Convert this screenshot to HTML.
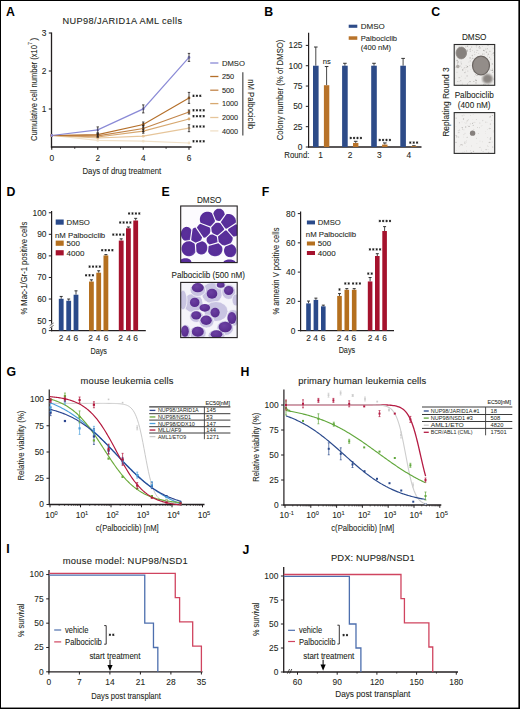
<!DOCTYPE html>
<html><head><meta charset="utf-8"><style>
html,body{margin:0;padding:0;background:#fff;}
svg{display:block;font-family:"Liberation Sans", sans-serif;}
</style></head><body>
<svg width="520" height="709" viewBox="0 0 520 709">
<rect x="0" y="0" width="520" height="709" fill="#fff"/>
<text x="6.0" y="16.2" font-size="12.3" text-anchor="start" font-weight="bold" fill="#000">A</text>
<text x="62.5" y="23.75" font-size="9.2" text-anchor="start" textLength="119.5" lengthAdjust="spacing" fill="#231f20" stroke="#231f20" stroke-width="0.1">NUP98/JARID1A AML cells</text>
<line x1="51.5" y1="32.5" x2="51.5" y2="147.6" stroke="#231f20" stroke-width="1.3"/>
<line x1="48.8" y1="33" x2="51.5" y2="33" stroke="#231f20" stroke-width="1.1"/>
<text x="46.3" y="35.9" font-size="8.4" text-anchor="end" fill="#231f20" stroke="#231f20" stroke-width="0.08">3</text>
<line x1="48.8" y1="71" x2="51.5" y2="71" stroke="#231f20" stroke-width="1.1"/>
<text x="46.3" y="73.9" font-size="8.4" text-anchor="end" fill="#231f20" stroke="#231f20" stroke-width="0.08">2</text>
<line x1="48.8" y1="109" x2="51.5" y2="109" stroke="#231f20" stroke-width="1.1"/>
<text x="46.3" y="111.9" font-size="8.4" text-anchor="end" fill="#231f20" stroke="#231f20" stroke-width="0.08">1</text>
<line x1="50.9" y1="147" x2="191.5" y2="147" stroke="#231f20" stroke-width="1.3"/>
<line x1="51.75" y1="147" x2="51.75" y2="149.8" stroke="#231f20" stroke-width="1.1"/>
<text x="51.75" y="160.5" font-size="8.4" text-anchor="middle" fill="#231f20" stroke="#231f20" stroke-width="0.08">0</text>
<line x1="97.75" y1="147" x2="97.75" y2="149.8" stroke="#231f20" stroke-width="1.1"/>
<text x="97.75" y="160.5" font-size="8.4" text-anchor="middle" fill="#231f20" stroke="#231f20" stroke-width="0.08">2</text>
<line x1="143.25" y1="147" x2="143.25" y2="149.8" stroke="#231f20" stroke-width="1.1"/>
<text x="143.25" y="160.5" font-size="8.4" text-anchor="middle" fill="#231f20" stroke="#231f20" stroke-width="0.08">4</text>
<line x1="189" y1="147" x2="189" y2="149.8" stroke="#231f20" stroke-width="1.1"/>
<text x="189" y="160.5" font-size="8.4" text-anchor="middle" fill="#231f20" stroke="#231f20" stroke-width="0.08">6</text>
<line x1="74.75" y1="147" x2="74.75" y2="148.8" stroke="#231f20" stroke-width="0.9"/>
<line x1="120.5" y1="147" x2="120.5" y2="148.8" stroke="#231f20" stroke-width="0.9"/>
<line x1="166.1" y1="147" x2="166.1" y2="148.8" stroke="#231f20" stroke-width="0.9"/>
<text x="82.5" y="173.9" font-size="9.8" text-anchor="start" textLength="78.7" lengthAdjust="spacingAndGlyphs" fill="#231f20" stroke="#231f20" stroke-width="0.08">Days of drug treatment</text>
<text x="36.6" y="141" font-size="9.4" text-anchor="start" textLength="96" lengthAdjust="spacingAndGlyphs" transform="rotate(-90 36.6 141)" fill="#231f20" stroke="#231f20" stroke-width="0.08">Cumulative cell number (x10</text>
<text x="32.2" y="45.0" font-size="5.2" text-anchor="start" transform="rotate(-90 32.2 45.0)" fill="#231f20" stroke="#231f20" stroke-width="0.08">7</text>
<text x="36.6" y="40.8" font-size="9.4" text-anchor="start" transform="rotate(-90 36.6 40.8)" fill="#231f20" stroke="#231f20" stroke-width="0.08">)</text>
<polyline points="51.75,135.50 97.75,140.40 143.25,141.20 189.00,143.00" fill="none" stroke="#f1e1c8" stroke-width="1.2"/>
<circle cx="51.75" cy="135.5" r="1.4" fill="#f1e1c8"/>
<circle cx="97.75" cy="140.4" r="1.4" fill="#f1e1c8"/>
<circle cx="143.25" cy="141.2" r="1.4" fill="#f1e1c8"/>
<circle cx="189" cy="143.0" r="1.4" fill="#f1e1c8"/>
<polyline points="51.75,135.50 97.75,138.00 143.25,136.20 189.00,128.20" fill="none" stroke="#e6c59a" stroke-width="1.2"/>
<circle cx="51.75" cy="135.5" r="1.4" fill="#e6c59a"/>
<circle cx="97.75" cy="138.0" r="1.4" fill="#e6c59a"/>
<circle cx="143.25" cy="136.2" r="1.4" fill="#e6c59a"/>
<circle cx="189" cy="128.2" r="1.4" fill="#e6c59a"/>
<polyline points="51.75,135.50 97.75,137.00 143.25,131.20 189.00,119.00" fill="none" stroke="#d7a870" stroke-width="1.2"/>
<circle cx="51.75" cy="135.5" r="1.4" fill="#d7a870"/>
<circle cx="97.75" cy="137.0" r="1.4" fill="#d7a870"/>
<circle cx="143.25" cy="131.2" r="1.4" fill="#d7a870"/>
<circle cx="189" cy="119.0" r="1.4" fill="#d7a870"/>
<polyline points="51.75,135.50 97.75,135.80 143.25,128.50 189.00,112.00" fill="none" stroke="#c2854a" stroke-width="1.2"/>
<circle cx="51.75" cy="135.5" r="1.4" fill="#c2854a"/>
<circle cx="97.75" cy="135.8" r="1.4" fill="#c2854a"/>
<circle cx="143.25" cy="128.5" r="1.4" fill="#c2854a"/>
<circle cx="189" cy="112.0" r="1.4" fill="#c2854a"/>
<polyline points="51.75,135.50 97.75,134.70 143.25,124.50 189.00,97.90" fill="none" stroke="#b46f2a" stroke-width="1.2"/>
<circle cx="51.75" cy="135.5" r="1.4" fill="#b46f2a"/>
<circle cx="97.75" cy="134.7" r="1.4" fill="#b46f2a"/>
<circle cx="143.25" cy="124.5" r="1.4" fill="#b46f2a"/>
<circle cx="189" cy="97.9" r="1.4" fill="#b46f2a"/>
<polyline points="51.75,135.50 97.75,129.90 143.25,108.90 189.00,57.40" fill="none" stroke="#8a8ad6" stroke-width="1.2"/>
<circle cx="51.75" cy="135.5" r="1.4" fill="#8a8ad6"/>
<circle cx="97.75" cy="129.9" r="1.4" fill="#8a8ad6"/>
<circle cx="143.25" cy="108.9" r="1.4" fill="#8a8ad6"/>
<circle cx="189" cy="57.4" r="1.4" fill="#8a8ad6"/>
<line x1="97.75" y1="126.9" x2="97.75" y2="132.9" stroke="#231f20" stroke-width="0.8"/>
<line x1="96.55" y1="126.9" x2="98.95" y2="126.9" stroke="#231f20" stroke-width="0.8"/>
<line x1="96.55" y1="132.9" x2="98.95" y2="132.9" stroke="#231f20" stroke-width="0.8"/>
<line x1="143.25" y1="104.9" x2="143.25" y2="112.9" stroke="#231f20" stroke-width="0.8"/>
<line x1="142.05" y1="104.9" x2="144.45" y2="104.9" stroke="#231f20" stroke-width="0.8"/>
<line x1="142.05" y1="112.9" x2="144.45" y2="112.9" stroke="#231f20" stroke-width="0.8"/>
<line x1="189" y1="53.4" x2="189" y2="61.4" stroke="#231f20" stroke-width="0.8"/>
<line x1="187.8" y1="53.4" x2="190.2" y2="53.4" stroke="#231f20" stroke-width="0.8"/>
<line x1="187.8" y1="61.4" x2="190.2" y2="61.4" stroke="#231f20" stroke-width="0.8"/>
<line x1="97.75" y1="133.2" x2="97.75" y2="136.2" stroke="#231f20" stroke-width="0.8"/>
<line x1="96.55" y1="133.2" x2="98.95" y2="133.2" stroke="#231f20" stroke-width="0.8"/>
<line x1="96.55" y1="136.2" x2="98.95" y2="136.2" stroke="#231f20" stroke-width="0.8"/>
<line x1="143.25" y1="122.0" x2="143.25" y2="127.0" stroke="#231f20" stroke-width="0.8"/>
<line x1="142.05" y1="122.0" x2="144.45" y2="122.0" stroke="#231f20" stroke-width="0.8"/>
<line x1="142.05" y1="127.0" x2="144.45" y2="127.0" stroke="#231f20" stroke-width="0.8"/>
<line x1="189" y1="92.4" x2="189" y2="103.4" stroke="#231f20" stroke-width="0.8"/>
<line x1="187.8" y1="92.4" x2="190.2" y2="92.4" stroke="#231f20" stroke-width="0.8"/>
<line x1="187.8" y1="103.4" x2="190.2" y2="103.4" stroke="#231f20" stroke-width="0.8"/>
<line x1="97.75" y1="134.3" x2="97.75" y2="137.3" stroke="#231f20" stroke-width="0.8"/>
<line x1="96.55" y1="134.3" x2="98.95" y2="134.3" stroke="#231f20" stroke-width="0.8"/>
<line x1="96.55" y1="137.3" x2="98.95" y2="137.3" stroke="#231f20" stroke-width="0.8"/>
<line x1="143.25" y1="125.5" x2="143.25" y2="131.5" stroke="#231f20" stroke-width="0.8"/>
<line x1="142.05" y1="125.5" x2="144.45" y2="125.5" stroke="#231f20" stroke-width="0.8"/>
<line x1="142.05" y1="131.5" x2="144.45" y2="131.5" stroke="#231f20" stroke-width="0.8"/>
<line x1="189" y1="110.0" x2="189" y2="114.0" stroke="#231f20" stroke-width="0.8"/>
<line x1="187.8" y1="110.0" x2="190.2" y2="110.0" stroke="#231f20" stroke-width="0.8"/>
<line x1="187.8" y1="114.0" x2="190.2" y2="114.0" stroke="#231f20" stroke-width="0.8"/>
<line x1="143.25" y1="129.2" x2="143.25" y2="133.2" stroke="#231f20" stroke-width="0.8"/>
<line x1="142.05" y1="129.2" x2="144.45" y2="129.2" stroke="#231f20" stroke-width="0.8"/>
<line x1="142.05" y1="133.2" x2="144.45" y2="133.2" stroke="#231f20" stroke-width="0.8"/>
<line x1="189" y1="124.69999999999999" x2="189" y2="131.7" stroke="#231f20" stroke-width="0.8"/>
<line x1="187.8" y1="124.69999999999999" x2="190.2" y2="124.69999999999999" stroke="#231f20" stroke-width="0.8"/>
<line x1="187.8" y1="131.7" x2="190.2" y2="131.7" stroke="#231f20" stroke-width="0.8"/>
<path d="M193.50 94.60L193.50 97.00M192.46 95.20L194.54 96.40M194.54 95.20L192.46 96.40M196.90 94.60L196.90 97.00M195.86 95.20L197.94 96.40M197.94 95.20L195.86 96.40M200.30 94.60L200.30 97.00M199.26 95.20L201.34 96.40M201.34 95.20L199.26 96.40" stroke="#1a1a1a" stroke-width="0.85" fill="none"/>
<path d="M193.50 109.10L193.50 111.50M192.46 109.70L194.54 110.90M194.54 109.70L192.46 110.90M196.90 109.10L196.90 111.50M195.86 109.70L197.94 110.90M197.94 109.70L195.86 110.90M200.30 109.10L200.30 111.50M199.26 109.70L201.34 110.90M201.34 109.70L199.26 110.90M203.70 109.10L203.70 111.50M202.66 109.70L204.74 110.90M204.74 109.70L202.66 110.90" stroke="#1a1a1a" stroke-width="0.85" fill="none"/>
<path d="M193.50 115.00L193.50 117.40M192.46 115.60L194.54 116.80M194.54 115.60L192.46 116.80M196.90 115.00L196.90 117.40M195.86 115.60L197.94 116.80M197.94 115.60L195.86 116.80M200.30 115.00L200.30 117.40M199.26 115.60L201.34 116.80M201.34 115.60L199.26 116.80M203.70 115.00L203.70 117.40M202.66 115.60L204.74 116.80M204.74 115.60L202.66 116.80" stroke="#1a1a1a" stroke-width="0.85" fill="none"/>
<path d="M193.50 125.30L193.50 127.70M192.46 125.90L194.54 127.10M194.54 125.90L192.46 127.10M196.90 125.30L196.90 127.70M195.86 125.90L197.94 127.10M197.94 125.90L195.86 127.10M200.30 125.30L200.30 127.70M199.26 125.90L201.34 127.10M201.34 125.90L199.26 127.10M203.70 125.30L203.70 127.70M202.66 125.90L204.74 127.10M204.74 125.90L202.66 127.10" stroke="#1a1a1a" stroke-width="0.85" fill="none"/>
<path d="M193.50 140.10L193.50 142.50M192.46 140.70L194.54 141.90M194.54 140.70L192.46 141.90M196.90 140.10L196.90 142.50M195.86 140.70L197.94 141.90M197.94 140.70L195.86 141.90M200.30 140.10L200.30 142.50M199.26 140.70L201.34 141.90M201.34 140.70L199.26 141.90M203.70 140.10L203.70 142.50M202.66 140.70L204.74 141.90M204.74 140.70L202.66 141.90" stroke="#1a1a1a" stroke-width="0.85" fill="none"/>
<line x1="210.2" y1="63.0" x2="218.4" y2="63.0" stroke="#8a8ad6" stroke-width="1.3"/>
<text x="221.9" y="65.8" font-size="7.9" text-anchor="start" textLength="23.0" lengthAdjust="spacingAndGlyphs" fill="#231f20" stroke="#231f20" stroke-width="0.08">DMSO</text>
<line x1="210.2" y1="76.5" x2="218.4" y2="76.5" stroke="#b46f2a" stroke-width="1.3"/>
<text x="221.9" y="79.3" font-size="7.9" text-anchor="start" textLength="12.3" lengthAdjust="spacingAndGlyphs" fill="#231f20" stroke="#231f20" stroke-width="0.08">250</text>
<line x1="210.2" y1="90.2" x2="218.4" y2="90.2" stroke="#c2854a" stroke-width="1.3"/>
<text x="221.9" y="93.0" font-size="7.9" text-anchor="start" textLength="12.3" lengthAdjust="spacingAndGlyphs" fill="#231f20" stroke="#231f20" stroke-width="0.08">500</text>
<line x1="210.2" y1="103.6" x2="218.4" y2="103.6" stroke="#d7a870" stroke-width="1.3"/>
<text x="221.9" y="106.39999999999999" font-size="7.9" text-anchor="start" textLength="16.2" lengthAdjust="spacingAndGlyphs" fill="#231f20" stroke="#231f20" stroke-width="0.08">1000</text>
<line x1="210.2" y1="117.5" x2="218.4" y2="117.5" stroke="#e6c59a" stroke-width="1.3"/>
<text x="221.9" y="120.3" font-size="7.9" text-anchor="start" textLength="16.2" lengthAdjust="spacingAndGlyphs" fill="#231f20" stroke="#231f20" stroke-width="0.08">2000</text>
<line x1="210.2" y1="130.9" x2="218.4" y2="130.9" stroke="#f1e1c8" stroke-width="1.3"/>
<text x="221.9" y="133.70000000000002" font-size="7.9" text-anchor="start" textLength="16.2" lengthAdjust="spacingAndGlyphs" fill="#231f20" stroke="#231f20" stroke-width="0.08">4000</text>
<line x1="242.8" y1="72.3" x2="242.8" y2="135.4" stroke="#666" stroke-width="1.4"/>
<text x="248.2" y="79.2" font-size="8.2" text-anchor="start" textLength="50.0" lengthAdjust="spacingAndGlyphs" transform="rotate(90 248.2 79.2)" fill="#231f20" stroke="#231f20" stroke-width="0.08">nM Palbociclib</text>
<text x="264.3" y="16.2" font-size="12.3" text-anchor="start" font-weight="bold" fill="#000">B</text>
<line x1="308.6" y1="32.8" x2="308.6" y2="147.6" stroke="#231f20" stroke-width="1.2"/>
<line x1="305.8" y1="147.0" x2="308.6" y2="147.0" stroke="#231f20" stroke-width="1.0"/>
<text x="302.5" y="149.9" font-size="8.4" text-anchor="end" fill="#231f20" stroke="#231f20" stroke-width="0.08">0</text>
<line x1="305.8" y1="126.68" x2="308.6" y2="126.68" stroke="#231f20" stroke-width="1.0"/>
<text x="302.5" y="129.58" font-size="8.4" text-anchor="end" fill="#231f20" stroke="#231f20" stroke-width="0.08">25</text>
<line x1="305.8" y1="106.36" x2="308.6" y2="106.36" stroke="#231f20" stroke-width="1.0"/>
<text x="302.5" y="109.26" font-size="8.4" text-anchor="end" fill="#231f20" stroke="#231f20" stroke-width="0.08">50</text>
<line x1="305.8" y1="86.03999999999999" x2="308.6" y2="86.03999999999999" stroke="#231f20" stroke-width="1.0"/>
<text x="302.5" y="88.94" font-size="8.4" text-anchor="end" fill="#231f20" stroke="#231f20" stroke-width="0.08">75</text>
<line x1="305.8" y1="65.72" x2="308.6" y2="65.72" stroke="#231f20" stroke-width="1.0"/>
<text x="302.5" y="68.62" font-size="8.4" text-anchor="end" fill="#231f20" stroke="#231f20" stroke-width="0.08">100</text>
<line x1="305.8" y1="45.400000000000006" x2="308.6" y2="45.400000000000006" stroke="#231f20" stroke-width="1.0"/>
<text x="302.5" y="48.300000000000004" font-size="8.4" text-anchor="end" fill="#231f20" stroke="#231f20" stroke-width="0.08">125</text>
<line x1="308.0" y1="147.0" x2="421.5" y2="147.0" stroke="#231f20" stroke-width="1.3"/>
<text x="283.0" y="140.3" font-size="9.4" text-anchor="start" textLength="100.7" lengthAdjust="spacingAndGlyphs" transform="rotate(-90 283.0 140.3)" fill="#231f20" stroke="#231f20" stroke-width="0.08">Colony number  (% of DMSO)</text>
<text x="284.3" y="157.9" font-size="8.4" text-anchor="start" textLength="25.1" lengthAdjust="spacingAndGlyphs" fill="#231f20" stroke="#231f20" stroke-width="0.08">Round:</text>
<text x="320.6" y="157.9" font-size="8.4" text-anchor="middle" fill="#231f20" stroke="#231f20" stroke-width="0.08">1</text>
<text x="350.0" y="157.9" font-size="8.4" text-anchor="middle" fill="#231f20" stroke="#231f20" stroke-width="0.08">2</text>
<text x="379.40000000000003" y="157.9" font-size="8.4" text-anchor="middle" fill="#231f20" stroke="#231f20" stroke-width="0.08">3</text>
<text x="408.8" y="157.9" font-size="8.4" text-anchor="middle" fill="#231f20" stroke="#231f20" stroke-width="0.08">4</text>
<line x1="315.8" y1="47.0256" x2="315.8" y2="65.72" stroke="#333" stroke-width="0.9"/>
<line x1="314.0" y1="47.0256" x2="317.6" y2="47.0256" stroke="#333" stroke-width="1.0"/>
<rect x="313.0" y="65.72" width="5.6" height="81.28" fill="#2d4b88"/>
<line x1="326.59999999999997" y1="66.53280000000001" x2="326.59999999999997" y2="85.22720000000001" stroke="#333" stroke-width="0.9"/>
<line x1="324.79999999999995" y1="66.53280000000001" x2="328.4" y2="66.53280000000001" stroke="#333" stroke-width="1.0"/>
<rect x="323.9" y="85.22720000000001" width="5.4" height="61.77279999999999" fill="#b8732a"/>
<line x1="344.90000000000003" y1="63.2816" x2="344.90000000000003" y2="65.72" stroke="#333" stroke-width="0.9"/>
<line x1="343.1" y1="63.2816" x2="346.70000000000005" y2="63.2816" stroke="#333" stroke-width="1.0"/>
<rect x="342.1" y="65.72" width="5.6" height="81.28" fill="#2d4b88"/>
<line x1="355.7" y1="141.3104" x2="355.7" y2="142.936" stroke="#333" stroke-width="0.9"/>
<line x1="353.9" y1="141.3104" x2="357.5" y2="141.3104" stroke="#333" stroke-width="1.0"/>
<rect x="353.0" y="142.936" width="5.4" height="4.063999999999993" fill="#b8732a"/>
<line x1="374.0" y1="63.2816" x2="374.0" y2="65.72" stroke="#333" stroke-width="0.9"/>
<line x1="372.2" y1="63.2816" x2="375.8" y2="63.2816" stroke="#333" stroke-width="1.0"/>
<rect x="371.2" y="65.72" width="5.6" height="81.28" fill="#2d4b88"/>
<line x1="384.79999999999995" y1="142.936" x2="384.79999999999995" y2="144.5616" stroke="#333" stroke-width="0.9"/>
<line x1="382.99999999999994" y1="142.936" x2="386.59999999999997" y2="142.936" stroke="#333" stroke-width="1.0"/>
<rect x="382.09999999999997" y="144.5616" width="5.4" height="2.4384000000000015" fill="#b8732a"/>
<line x1="403.1" y1="58.40480000000001" x2="403.1" y2="65.72" stroke="#333" stroke-width="0.9"/>
<line x1="401.3" y1="58.40480000000001" x2="404.90000000000003" y2="58.40480000000001" stroke="#333" stroke-width="1.0"/>
<rect x="400.3" y="65.72" width="5.6" height="81.28" fill="#2d4b88"/>
<line x1="413.9" y1="145.7808" x2="413.9" y2="146.1872" stroke="#333" stroke-width="0.9"/>
<line x1="412.09999999999997" y1="145.7808" x2="415.7" y2="145.7808" stroke="#333" stroke-width="1.0"/>
<rect x="411.2" y="146.1872" width="5.4" height="0.81280000000001" fill="#b8732a"/>
<text x="326.8" y="63.6" font-size="7.6" text-anchor="middle" fill="#231f20" stroke="#231f20" stroke-width="0.08">ns</text>
<path d="M350.70 136.80L350.70 139.20M349.66 137.40L351.74 138.60M351.74 137.40L349.66 138.60M354.10 136.80L354.10 139.20M353.06 137.40L355.14 138.60M355.14 137.40L353.06 138.60M357.50 136.80L357.50 139.20M356.46 137.40L358.54 138.60M358.54 137.40L356.46 138.60M360.90 136.80L360.90 139.20M359.86 137.40L361.94 138.60M361.94 137.40L359.86 138.60" stroke="#1a1a1a" stroke-width="0.85" fill="none"/>
<path d="M379.70 138.80L379.70 141.20M378.66 139.40L380.74 140.60M380.74 139.40L378.66 140.60M383.10 138.80L383.10 141.20M382.06 139.40L384.14 140.60M384.14 139.40L382.06 140.60M386.50 138.80L386.50 141.20M385.46 139.40L387.54 140.60M387.54 139.40L385.46 140.60M389.90 138.80L389.90 141.20M388.86 139.40L390.94 140.60M390.94 139.40L388.86 140.60" stroke="#1a1a1a" stroke-width="0.85" fill="none"/>
<path d="M410.30 141.40L410.30 143.80M409.26 142.00L411.34 143.20M411.34 142.00L409.26 143.20M413.70 141.40L413.70 143.80M412.66 142.00L414.74 143.20M414.74 142.00L412.66 143.20M417.10 141.40L417.10 143.80M416.06 142.00L418.14 143.20M418.14 142.00L416.06 143.20" stroke="#1a1a1a" stroke-width="0.85" fill="none"/>
<rect x="348.7" y="24.7" width="8.6" height="3.1" fill="#2d4b88"/>
<text x="360.8" y="29.2" font-size="8.0" text-anchor="start" fill="#231f20" stroke="#231f20" stroke-width="0.08">DMSO</text>
<rect x="348.7" y="36.3" width="8.6" height="3.5" fill="#b8732a"/>
<text x="360.8" y="41.0" font-size="8.0" text-anchor="start" textLength="36.3" lengthAdjust="spacingAndGlyphs" fill="#231f20" stroke="#231f20" stroke-width="0.08">Palbociclib</text>
<text x="360.8" y="50.0" font-size="8.0" text-anchor="start" textLength="30.3" lengthAdjust="spacingAndGlyphs" fill="#231f20" stroke="#231f20" stroke-width="0.08">(400 nM)</text>
<text x="431.2" y="16.2" font-size="12.3" text-anchor="start" font-weight="bold" fill="#000">C</text>
<text x="474.2" y="40.0" font-size="8.2" text-anchor="middle" fill="#231f20" stroke="#231f20" stroke-width="0.08">DMSO</text>
<text x="474.2" y="98.3" font-size="8.2" text-anchor="middle" fill="#231f20" stroke="#231f20" stroke-width="0.08">Palbociclib</text>
<text x="474.2" y="108.0" font-size="8.2" text-anchor="middle" fill="#231f20" stroke="#231f20" stroke-width="0.08">(400 nM)</text>
<text x="449.3" y="102.0" font-size="8.4" text-anchor="middle" transform="rotate(-90 449.3 102.0)" fill="#231f20" stroke="#231f20" stroke-width="0.08">Replating Round 3</text>
<defs><filter id="speck" x="0" y="0" width="100%" height="100%"><feTurbulence type="fractalNoise" baseFrequency="0.9" numOctaves="2" seed="3"/><feColorMatrix values="0 0 0 0 0.45  0 0 0 0 0.43  0 0 0 0 0.42  0 0 0 -1.6 0.95"/></filter><filter id="blur1"><feGaussianBlur stdDeviation="0.6"/></filter><filter id="blur2"><feGaussianBlur stdDeviation="1.2"/></filter></defs>
<rect x="454.2" y="44.5" width="40.5" height="40.8" fill="#efeeec"/>
<circle cx="467.5" cy="50.9" r="0.54" fill="rgb(154,151,148)" opacity="0.8"/>
<circle cx="487.4" cy="48.6" r="0.51" fill="rgb(182,179,176)" opacity="0.8"/>
<circle cx="463.1" cy="48.3" r="0.44" fill="rgb(165,162,159)" opacity="0.8"/>
<circle cx="458.1" cy="61.9" r="0.62" fill="rgb(157,154,151)" opacity="0.8"/>
<circle cx="492.4" cy="70.2" r="0.51" fill="rgb(153,150,147)" opacity="0.8"/>
<circle cx="477.6" cy="60.7" r="0.69" fill="rgb(152,149,146)" opacity="0.8"/>
<circle cx="476.8" cy="50.2" r="0.44" fill="rgb(184,181,178)" opacity="0.8"/>
<circle cx="459.2" cy="57.2" r="0.62" fill="rgb(161,158,155)" opacity="0.8"/>
<circle cx="458.6" cy="67.8" r="0.33" fill="rgb(156,153,150)" opacity="0.8"/>
<circle cx="476.4" cy="47.3" r="0.28" fill="rgb(163,160,157)" opacity="0.8"/>
<circle cx="474.4" cy="66.2" r="0.60" fill="rgb(179,176,173)" opacity="0.8"/>
<circle cx="477.9" cy="63.0" r="0.38" fill="rgb(200,197,194)" opacity="0.8"/>
<circle cx="461.7" cy="76.1" r="0.29" fill="rgb(169,166,163)" opacity="0.8"/>
<circle cx="475.5" cy="80.0" r="0.58" fill="rgb(168,165,162)" opacity="0.8"/>
<circle cx="478.9" cy="47.7" r="0.48" fill="rgb(160,157,154)" opacity="0.8"/>
<circle cx="484.8" cy="50.9" r="0.47" fill="rgb(152,149,146)" opacity="0.8"/>
<circle cx="493.0" cy="47.9" r="0.50" fill="rgb(200,197,194)" opacity="0.8"/>
<circle cx="489.5" cy="57.4" r="0.56" fill="rgb(188,185,182)" opacity="0.8"/>
<circle cx="474.4" cy="76.8" r="0.28" fill="rgb(155,152,149)" opacity="0.8"/>
<circle cx="492.3" cy="63.9" r="0.55" fill="rgb(153,150,147)" opacity="0.8"/>
<circle cx="483.7" cy="57.2" r="0.51" fill="rgb(193,190,187)" opacity="0.8"/>
<circle cx="487.4" cy="56.2" r="0.42" fill="rgb(192,189,186)" opacity="0.8"/>
<circle cx="468.4" cy="82.6" r="0.41" fill="rgb(189,186,183)" opacity="0.8"/>
<circle cx="459.2" cy="47.2" r="0.60" fill="rgb(158,155,152)" opacity="0.8"/>
<circle cx="484.0" cy="60.8" r="0.66" fill="rgb(181,178,175)" opacity="0.8"/>
<circle cx="457.7" cy="62.9" r="0.50" fill="rgb(158,155,152)" opacity="0.8"/>
<circle cx="487.3" cy="79.5" r="0.38" fill="rgb(176,173,170)" opacity="0.8"/>
<circle cx="494.0" cy="72.2" r="0.42" fill="rgb(164,161,158)" opacity="0.8"/>
<circle cx="460.5" cy="51.9" r="0.35" fill="rgb(164,161,158)" opacity="0.8"/>
<circle cx="455.0" cy="78.2" r="0.33" fill="rgb(168,165,162)" opacity="0.8"/>
<circle cx="454.7" cy="61.6" r="0.42" fill="rgb(186,183,180)" opacity="0.8"/>
<circle cx="467.2" cy="49.8" r="0.64" fill="rgb(189,186,183)" opacity="0.8"/>
<circle cx="480.7" cy="74.5" r="0.46" fill="rgb(199,196,193)" opacity="0.8"/>
<circle cx="492.6" cy="72.2" r="0.50" fill="rgb(175,172,169)" opacity="0.8"/>
<circle cx="470.5" cy="49.0" r="0.54" fill="rgb(153,150,147)" opacity="0.8"/>
<circle cx="462.1" cy="84.4" r="0.45" fill="rgb(157,154,151)" opacity="0.8"/>
<circle cx="468.1" cy="46.9" r="0.25" fill="rgb(159,156,153)" opacity="0.8"/>
<circle cx="476.0" cy="82.9" r="0.53" fill="rgb(154,151,148)" opacity="0.8"/>
<circle cx="489.5" cy="69.5" r="0.32" fill="rgb(166,163,160)" opacity="0.8"/>
<circle cx="492.7" cy="69.0" r="0.46" fill="rgb(157,154,151)" opacity="0.8"/>
<circle cx="488.5" cy="84.7" r="0.46" fill="rgb(180,177,174)" opacity="0.8"/>
<circle cx="467.0" cy="50.6" r="0.59" fill="rgb(197,194,191)" opacity="0.8"/>
<circle cx="465.1" cy="78.1" r="0.32" fill="rgb(151,148,145)" opacity="0.8"/>
<circle cx="462.7" cy="83.1" r="0.41" fill="rgb(194,191,188)" opacity="0.8"/>
<circle cx="476.2" cy="45.9" r="0.49" fill="rgb(191,188,185)" opacity="0.8"/>
<circle cx="489.0" cy="72.8" r="0.37" fill="rgb(173,170,167)" opacity="0.8"/>
<circle cx="490.8" cy="59.1" r="0.35" fill="rgb(184,181,178)" opacity="0.8"/>
<circle cx="485.7" cy="58.1" r="0.35" fill="rgb(200,197,194)" opacity="0.8"/>
<circle cx="493.9" cy="79.1" r="0.61" fill="rgb(175,172,169)" opacity="0.8"/>
<circle cx="484.1" cy="53.9" r="0.48" fill="rgb(172,169,166)" opacity="0.8"/>
<circle cx="483.7" cy="84.6" r="0.61" fill="rgb(180,177,174)" opacity="0.8"/>
<circle cx="464.9" cy="72.6" r="0.68" fill="rgb(178,175,172)" opacity="0.8"/>
<circle cx="486.8" cy="73.9" r="0.41" fill="rgb(173,170,167)" opacity="0.8"/>
<circle cx="457.7" cy="48.9" r="0.46" fill="rgb(171,168,165)" opacity="0.8"/>
<circle cx="462.7" cy="69.9" r="0.66" fill="rgb(150,147,144)" opacity="0.8"/>
<circle cx="473.7" cy="71.0" r="0.61" fill="rgb(155,152,149)" opacity="0.8"/>
<circle cx="487.9" cy="49.6" r="0.42" fill="rgb(195,192,189)" opacity="0.8"/>
<circle cx="484.5" cy="64.0" r="0.33" fill="rgb(200,197,194)" opacity="0.8"/>
<circle cx="479.9" cy="48.3" r="0.68" fill="rgb(196,193,190)" opacity="0.8"/>
<circle cx="470.3" cy="60.9" r="0.68" fill="rgb(196,193,190)" opacity="0.8"/>
<circle cx="460.9" cy="84.7" r="0.26" fill="rgb(187,184,181)" opacity="0.8"/>
<circle cx="490.7" cy="77.2" r="0.32" fill="rgb(188,185,182)" opacity="0.8"/>
<circle cx="493.7" cy="71.2" r="0.41" fill="rgb(185,182,179)" opacity="0.8"/>
<circle cx="476.4" cy="45.7" r="0.61" fill="rgb(196,193,190)" opacity="0.8"/>
<circle cx="480.5" cy="66.0" r="0.67" fill="rgb(177,174,171)" opacity="0.8"/>
<circle cx="494.0" cy="52.6" r="0.64" fill="rgb(151,148,145)" opacity="0.8"/>
<circle cx="464.6" cy="56.6" r="0.36" fill="rgb(187,184,181)" opacity="0.8"/>
<circle cx="467.5" cy="66.7" r="0.63" fill="rgb(153,150,147)" opacity="0.8"/>
<circle cx="490.9" cy="59.0" r="0.46" fill="rgb(187,184,181)" opacity="0.8"/>
<circle cx="487.1" cy="65.6" r="0.62" fill="rgb(182,179,176)" opacity="0.8"/>
<circle cx="459.7" cy="50.9" r="0.48" fill="rgb(178,175,172)" opacity="0.8"/>
<circle cx="485.6" cy="69.3" r="0.60" fill="rgb(159,156,153)" opacity="0.8"/>
<circle cx="461.4" cy="63.8" r="0.58" fill="rgb(185,182,179)" opacity="0.8"/>
<circle cx="457.0" cy="72.2" r="0.49" fill="rgb(180,177,174)" opacity="0.8"/>
<circle cx="485.9" cy="49.1" r="0.50" fill="rgb(165,162,159)" opacity="0.8"/>
<circle cx="462.2" cy="46.5" r="0.29" fill="rgb(178,175,172)" opacity="0.8"/>
<circle cx="477.0" cy="75.4" r="0.66" fill="rgb(178,175,172)" opacity="0.8"/>
<circle cx="467.5" cy="83.9" r="0.52" fill="rgb(162,159,156)" opacity="0.8"/>
<circle cx="482.2" cy="63.0" r="0.49" fill="rgb(180,177,174)" opacity="0.8"/>
<circle cx="474.8" cy="54.8" r="0.49" fill="rgb(166,163,160)" opacity="0.8"/>
<circle cx="491.4" cy="80.7" r="0.34" fill="rgb(178,175,172)" opacity="0.8"/>
<circle cx="460.0" cy="49.7" r="0.45" fill="rgb(154,151,148)" opacity="0.8"/>
<circle cx="481.3" cy="62.0" r="0.35" fill="rgb(169,166,163)" opacity="0.8"/>
<circle cx="485.9" cy="80.9" r="0.32" fill="rgb(195,192,189)" opacity="0.8"/>
<circle cx="480.2" cy="59.5" r="0.36" fill="rgb(158,155,152)" opacity="0.8"/>
<circle cx="493.2" cy="53.6" r="0.68" fill="rgb(175,172,169)" opacity="0.8"/>
<circle cx="489.9" cy="51.3" r="0.55" fill="rgb(164,161,158)" opacity="0.8"/>
<circle cx="461.0" cy="62.1" r="0.48" fill="rgb(171,168,165)" opacity="0.8"/>
<circle cx="471.4" cy="59.1" r="0.29" fill="rgb(173,170,167)" opacity="0.8"/>
<circle cx="455.3" cy="67.1" r="0.45" fill="rgb(151,148,145)" opacity="0.8"/>
<circle cx="469.9" cy="65.6" r="0.38" fill="rgb(154,151,148)" opacity="0.8"/>
<circle cx="459.0" cy="81.7" r="0.35" fill="rgb(156,153,150)" opacity="0.8"/>
<circle cx="457.9" cy="55.7" r="0.66" fill="rgb(161,158,155)" opacity="0.8"/>
<circle cx="465.3" cy="50.0" r="0.44" fill="rgb(193,190,187)" opacity="0.8"/>
<circle cx="487.3" cy="55.2" r="0.32" fill="rgb(182,179,176)" opacity="0.8"/>
<circle cx="477.3" cy="73.0" r="0.29" fill="rgb(153,150,147)" opacity="0.8"/>
<circle cx="486.5" cy="52.2" r="0.65" fill="rgb(167,164,161)" opacity="0.8"/>
<circle cx="492.0" cy="70.3" r="0.61" fill="rgb(155,152,149)" opacity="0.8"/>
<circle cx="478.8" cy="53.7" r="0.37" fill="rgb(157,154,151)" opacity="0.8"/>
<circle cx="472.7" cy="58.4" r="0.50" fill="rgb(167,164,161)" opacity="0.8"/>
<circle cx="479.4" cy="46.5" r="0.57" fill="rgb(157,154,151)" opacity="0.8"/>
<circle cx="493.3" cy="55.3" r="0.33" fill="rgb(169,166,163)" opacity="0.8"/>
<circle cx="479.6" cy="66.1" r="0.34" fill="rgb(178,175,172)" opacity="0.8"/>
<circle cx="474.5" cy="52.0" r="0.41" fill="rgb(151,148,145)" opacity="0.8"/>
<circle cx="494.3" cy="46.3" r="0.26" fill="rgb(182,179,176)" opacity="0.8"/>
<circle cx="476.5" cy="52.4" r="0.46" fill="rgb(178,175,172)" opacity="0.8"/>
<circle cx="458.8" cy="77.7" r="0.44" fill="rgb(181,178,175)" opacity="0.8"/>
<circle cx="476.3" cy="80.5" r="0.69" fill="rgb(169,166,163)" opacity="0.8"/>
<circle cx="482.0" cy="84.3" r="0.40" fill="rgb(195,192,189)" opacity="0.8"/>
<circle cx="483.7" cy="50.4" r="0.70" fill="rgb(153,150,147)" opacity="0.8"/>
<circle cx="488.0" cy="45.4" r="0.53" fill="rgb(166,163,160)" opacity="0.8"/>
<circle cx="471.7" cy="47.0" r="0.55" fill="rgb(174,171,168)" opacity="0.8"/>
<circle cx="489.3" cy="71.8" r="0.38" fill="rgb(165,162,159)" opacity="0.8"/>
<circle cx="482.2" cy="46.6" r="0.33" fill="rgb(167,164,161)" opacity="0.8"/>
<circle cx="472.3" cy="55.4" r="0.68" fill="rgb(185,182,179)" opacity="0.8"/>
<circle cx="467.4" cy="46.2" r="0.65" fill="rgb(163,160,157)" opacity="0.8"/>
<circle cx="468.8" cy="44.8" r="0.42" fill="rgb(180,177,174)" opacity="0.8"/>
<circle cx="465.7" cy="71.2" r="0.36" fill="rgb(199,196,193)" opacity="0.8"/>
<circle cx="454.7" cy="55.4" r="0.29" fill="rgb(175,172,169)" opacity="0.8"/>
<circle cx="478.0" cy="60.6" r="0.38" fill="rgb(190,187,184)" opacity="0.8"/>
<circle cx="463.8" cy="68.3" r="0.49" fill="rgb(198,195,192)" opacity="0.8"/>
<circle cx="460.7" cy="80.7" r="0.60" fill="rgb(188,185,182)" opacity="0.8"/>
<circle cx="470.1" cy="57.9" r="0.69" fill="rgb(159,156,153)" opacity="0.8"/>
<circle cx="465.9" cy="69.7" r="0.32" fill="rgb(195,192,189)" opacity="0.8"/>
<circle cx="490.2" cy="70.0" r="0.58" fill="rgb(182,179,176)" opacity="0.8"/>
<circle cx="460.1" cy="65.9" r="0.48" fill="rgb(151,148,145)" opacity="0.8"/>
<circle cx="487.6" cy="68.3" r="0.65" fill="rgb(193,190,187)" opacity="0.8"/>
<circle cx="492.7" cy="70.6" r="0.29" fill="rgb(152,149,146)" opacity="0.8"/>
<circle cx="459.8" cy="59.3" r="0.30" fill="rgb(178,175,172)" opacity="0.8"/>
<circle cx="476.8" cy="70.0" r="0.53" fill="rgb(193,190,187)" opacity="0.8"/>
<circle cx="464.3" cy="55.4" r="0.46" fill="rgb(154,151,148)" opacity="0.8"/>
<circle cx="484.4" cy="65.0" r="0.49" fill="rgb(192,189,186)" opacity="0.8"/>
<circle cx="475.5" cy="74.8" r="0.46" fill="rgb(154,151,148)" opacity="0.8"/>
<circle cx="488.3" cy="54.2" r="0.59" fill="rgb(164,161,158)" opacity="0.8"/>
<circle cx="484.1" cy="84.0" r="0.47" fill="rgb(174,171,168)" opacity="0.8"/>
<circle cx="457.6" cy="81.4" r="0.38" fill="rgb(152,149,146)" opacity="0.8"/>
<circle cx="479.2" cy="70.6" r="0.28" fill="rgb(159,156,153)" opacity="0.8"/>
<circle cx="467.8" cy="71.0" r="0.56" fill="rgb(189,186,183)" opacity="0.8"/>
<circle cx="477.2" cy="45.3" r="0.28" fill="rgb(167,164,161)" opacity="0.8"/>
<circle cx="493.4" cy="48.8" r="0.35" fill="rgb(181,178,175)" opacity="0.8"/>
<circle cx="466.1" cy="65.6" r="0.46" fill="rgb(179,176,173)" opacity="0.8"/>
<circle cx="485.2" cy="84.7" r="0.50" fill="rgb(169,166,163)" opacity="0.8"/>
<circle cx="493.6" cy="82.4" r="0.26" fill="rgb(179,176,173)" opacity="0.8"/>
<circle cx="457.6" cy="65.2" r="0.70" fill="rgb(167,164,161)" opacity="0.8"/>
<circle cx="470.0" cy="81.6" r="0.67" fill="rgb(154,151,148)" opacity="0.8"/>
<circle cx="477.8" cy="50.5" r="0.49" fill="rgb(173,170,167)" opacity="0.8"/>
<circle cx="459.8" cy="77.8" r="0.48" fill="rgb(157,154,151)" opacity="0.8"/>
<circle cx="482.6" cy="54.1" r="0.65" fill="rgb(181,178,175)" opacity="0.8"/>
<circle cx="470.3" cy="51.2" r="0.68" fill="rgb(193,190,187)" opacity="0.8"/>
<circle cx="472.5" cy="56.9" r="0.31" fill="rgb(172,169,166)" opacity="0.8"/>
<circle cx="469.5" cy="49.7" r="0.40" fill="rgb(170,167,164)" opacity="0.8"/>
<circle cx="484.5" cy="78.5" r="0.30" fill="rgb(162,159,156)" opacity="0.8"/>
<circle cx="483.0" cy="81.0" r="0.38" fill="rgb(173,170,167)" opacity="0.8"/>
<circle cx="457.1" cy="60.5" r="0.64" fill="rgb(154,151,148)" opacity="0.8"/>
<circle cx="468.9" cy="62.0" r="0.37" fill="rgb(153,150,147)" opacity="0.8"/>
<circle cx="465.7" cy="46.9" r="0.55" fill="rgb(190,187,184)" opacity="0.8"/>
<circle cx="491.9" cy="54.8" r="0.37" fill="rgb(182,179,176)" opacity="0.8"/>
<circle cx="467.1" cy="75.9" r="0.60" fill="rgb(177,174,171)" opacity="0.8"/>
<circle cx="489.9" cy="77.4" r="0.53" fill="rgb(185,182,179)" opacity="0.8"/>
<circle cx="476.5" cy="73.7" r="0.27" fill="rgb(196,193,190)" opacity="0.8"/>
<circle cx="470.9" cy="69.5" r="0.31" fill="rgb(168,165,162)" opacity="0.8"/>
<circle cx="473.9" cy="81.5" r="0.50" fill="rgb(160,157,154)" opacity="0.8"/>
<circle cx="473.4" cy="58.6" r="0.38" fill="rgb(197,194,191)" opacity="0.8"/>
<circle cx="484.0" cy="71.0" r="0.43" fill="rgb(165,162,159)" opacity="0.8"/>
<circle cx="466.5" cy="67.2" r="0.43" fill="rgb(160,157,154)" opacity="0.8"/>
<circle cx="480.2" cy="47.8" r="0.48" fill="rgb(181,178,175)" opacity="0.8"/>
<circle cx="476.5" cy="63.0" r="0.40" fill="rgb(198,195,192)" opacity="0.8"/>
<circle cx="472.5" cy="50.4" r="0.34" fill="rgb(155,152,149)" opacity="0.8"/>
<circle cx="461.5" cy="67.1" r="0.39" fill="rgb(173,170,167)" opacity="0.8"/>
<circle cx="464.8" cy="67.7" r="0.65" fill="rgb(197,194,191)" opacity="0.8"/>
<g filter="url(#blur1)">
<ellipse cx="461.3" cy="53.0" rx="5.3" ry="5.9" fill="#86817d" stroke="#8f8a86" stroke-width="0.8"/>
<ellipse cx="481.0" cy="65.5" rx="8.5" ry="9.3" fill="#938d89" stroke="#6a6460" stroke-width="1.2"/>
<ellipse cx="457.8" cy="66.5" rx="1.8" ry="1.8" fill="#b0aca8"/>
</g>
<ellipse cx="487.5" cy="78.8" rx="5.2" ry="4.8" fill="#8a8581" filter="url(#blur2)"/>
<rect x="454.2" y="44.5" width="40.5" height="40.8" fill="none" stroke="#2b2b2b" stroke-width="1.1"/>
<rect x="454.2" y="112.6" width="40.5" height="40.8" fill="#f2f1f0"/>
<circle cx="489.3" cy="128.3" r="0.55" fill="rgb(178,175,172)" opacity="0.8"/>
<circle cx="469.6" cy="126.5" r="0.27" fill="rgb(182,179,176)" opacity="0.8"/>
<circle cx="477.5" cy="127.4" r="0.52" fill="rgb(198,195,192)" opacity="0.8"/>
<circle cx="479.7" cy="147.6" r="0.34" fill="rgb(182,179,176)" opacity="0.8"/>
<circle cx="490.4" cy="128.4" r="0.51" fill="rgb(192,189,186)" opacity="0.8"/>
<circle cx="492.7" cy="147.0" r="0.60" fill="rgb(166,163,160)" opacity="0.8"/>
<circle cx="459.6" cy="130.0" r="0.56" fill="rgb(195,192,189)" opacity="0.8"/>
<circle cx="493.2" cy="132.6" r="0.28" fill="rgb(198,195,192)" opacity="0.8"/>
<circle cx="488.7" cy="152.0" r="0.35" fill="rgb(171,168,165)" opacity="0.8"/>
<circle cx="463.5" cy="119.0" r="0.64" fill="rgb(171,168,165)" opacity="0.8"/>
<circle cx="492.2" cy="141.9" r="0.51" fill="rgb(213,210,207)" opacity="0.8"/>
<circle cx="490.3" cy="116.3" r="0.56" fill="rgb(165,162,159)" opacity="0.8"/>
<circle cx="485.8" cy="122.2" r="0.62" fill="rgb(206,203,200)" opacity="0.8"/>
<circle cx="483.1" cy="151.6" r="0.50" fill="rgb(198,195,192)" opacity="0.8"/>
<circle cx="480.0" cy="141.0" r="0.29" fill="rgb(169,166,163)" opacity="0.8"/>
<circle cx="466.5" cy="150.8" r="0.33" fill="rgb(181,178,175)" opacity="0.8"/>
<circle cx="463.4" cy="137.1" r="0.25" fill="rgb(184,181,178)" opacity="0.8"/>
<circle cx="494.4" cy="124.1" r="0.38" fill="rgb(180,177,174)" opacity="0.8"/>
<circle cx="473.5" cy="122.3" r="0.35" fill="rgb(191,188,185)" opacity="0.8"/>
<circle cx="482.7" cy="125.3" r="0.26" fill="rgb(196,193,190)" opacity="0.8"/>
<circle cx="489.9" cy="138.9" r="0.28" fill="rgb(179,176,173)" opacity="0.8"/>
<circle cx="481.2" cy="150.1" r="0.34" fill="rgb(167,164,161)" opacity="0.8"/>
<circle cx="482.3" cy="141.8" r="0.39" fill="rgb(190,187,184)" opacity="0.8"/>
<circle cx="462.4" cy="144.9" r="0.55" fill="rgb(197,194,191)" opacity="0.8"/>
<circle cx="457.2" cy="132.8" r="0.33" fill="rgb(214,211,208)" opacity="0.8"/>
<circle cx="487.3" cy="122.2" r="0.34" fill="rgb(213,210,207)" opacity="0.8"/>
<circle cx="490.1" cy="117.3" r="0.50" fill="rgb(204,201,198)" opacity="0.8"/>
<circle cx="462.0" cy="121.9" r="0.42" fill="rgb(207,204,201)" opacity="0.8"/>
<circle cx="456.8" cy="136.8" r="0.62" fill="rgb(168,165,162)" opacity="0.8"/>
<circle cx="463.0" cy="152.1" r="0.31" fill="rgb(168,165,162)" opacity="0.8"/>
<circle cx="482.9" cy="120.3" r="0.43" fill="rgb(210,207,204)" opacity="0.8"/>
<circle cx="489.8" cy="142.4" r="0.65" fill="rgb(175,172,169)" opacity="0.8"/>
<circle cx="467.7" cy="120.4" r="0.62" fill="rgb(212,209,206)" opacity="0.8"/>
<circle cx="473.2" cy="125.4" r="0.54" fill="rgb(188,185,182)" opacity="0.8"/>
<circle cx="493.9" cy="130.7" r="0.29" fill="rgb(170,167,164)" opacity="0.8"/>
<circle cx="465.7" cy="127.0" r="0.63" fill="rgb(172,169,166)" opacity="0.8"/>
<circle cx="476.9" cy="143.4" r="0.40" fill="rgb(214,211,208)" opacity="0.8"/>
<circle cx="487.4" cy="145.9" r="0.42" fill="rgb(168,165,162)" opacity="0.8"/>
<circle cx="482.7" cy="120.8" r="0.47" fill="rgb(193,190,187)" opacity="0.8"/>
<circle cx="462.2" cy="127.5" r="0.61" fill="rgb(166,163,160)" opacity="0.8"/>
<circle cx="479.8" cy="122.9" r="0.50" fill="rgb(190,187,184)" opacity="0.8"/>
<circle cx="456.1" cy="114.3" r="0.28" fill="rgb(168,165,162)" opacity="0.8"/>
<circle cx="464.8" cy="142.9" r="0.61" fill="rgb(186,183,180)" opacity="0.8"/>
<circle cx="469.0" cy="126.4" r="0.63" fill="rgb(167,164,161)" opacity="0.8"/>
<circle cx="465.0" cy="141.7" r="0.38" fill="rgb(182,179,176)" opacity="0.8"/>
<circle cx="466.4" cy="141.9" r="0.49" fill="rgb(205,202,199)" opacity="0.8"/>
<circle cx="492.4" cy="115.5" r="0.58" fill="rgb(171,168,165)" opacity="0.8"/>
<circle cx="473.5" cy="151.4" r="0.63" fill="rgb(189,186,183)" opacity="0.8"/>
<circle cx="486.1" cy="149.6" r="0.58" fill="rgb(173,170,167)" opacity="0.8"/>
<circle cx="491.6" cy="120.3" r="0.57" fill="rgb(212,209,206)" opacity="0.8"/>
<circle cx="466.6" cy="140.7" r="0.31" fill="rgb(180,177,174)" opacity="0.8"/>
<circle cx="467.6" cy="125.7" r="0.39" fill="rgb(215,212,209)" opacity="0.8"/>
<circle cx="478.3" cy="133.5" r="0.41" fill="rgb(175,172,169)" opacity="0.8"/>
<circle cx="464.4" cy="115.5" r="0.26" fill="rgb(200,197,194)" opacity="0.8"/>
<circle cx="476.3" cy="119.4" r="0.42" fill="rgb(171,168,165)" opacity="0.8"/>
<circle cx="494.0" cy="123.5" r="0.28" fill="rgb(171,168,165)" opacity="0.8"/>
<circle cx="471.3" cy="152.6" r="0.64" fill="rgb(176,173,170)" opacity="0.8"/>
<circle cx="463.9" cy="129.7" r="0.50" fill="rgb(208,205,202)" opacity="0.8"/>
<circle cx="463.9" cy="134.6" r="0.56" fill="rgb(213,210,207)" opacity="0.8"/>
<circle cx="459.3" cy="146.7" r="0.37" fill="rgb(201,198,195)" opacity="0.8"/>
<circle cx="465.2" cy="123.1" r="0.35" fill="rgb(193,190,187)" opacity="0.8"/>
<circle cx="464.4" cy="122.8" r="0.31" fill="rgb(202,199,196)" opacity="0.8"/>
<circle cx="462.0" cy="115.5" r="0.35" fill="rgb(180,177,174)" opacity="0.8"/>
<circle cx="474.8" cy="122.2" r="0.57" fill="rgb(206,203,200)" opacity="0.8"/>
<circle cx="473.1" cy="114.4" r="0.25" fill="rgb(179,176,173)" opacity="0.8"/>
<circle cx="488.1" cy="149.7" r="0.27" fill="rgb(183,180,177)" opacity="0.8"/>
<circle cx="463.8" cy="114.9" r="0.49" fill="rgb(202,199,196)" opacity="0.8"/>
<circle cx="462.3" cy="115.9" r="0.46" fill="rgb(176,173,170)" opacity="0.8"/>
<circle cx="472.5" cy="123.3" r="0.56" fill="rgb(165,162,159)" opacity="0.8"/>
<circle cx="458.7" cy="136.9" r="0.50" fill="rgb(178,175,172)" opacity="0.8"/>
<circle cx="456.0" cy="126.6" r="0.27" fill="rgb(181,178,175)" opacity="0.8"/>
<circle cx="456.0" cy="142.3" r="0.62" fill="rgb(165,162,159)" opacity="0.8"/>
<circle cx="487.3" cy="129.3" r="0.40" fill="rgb(204,201,198)" opacity="0.8"/>
<circle cx="467.0" cy="121.1" r="0.57" fill="rgb(200,197,194)" opacity="0.8"/>
<circle cx="473.8" cy="129.3" r="0.57" fill="rgb(207,204,201)" opacity="0.8"/>
<circle cx="476.5" cy="138.6" r="0.29" fill="rgb(175,172,169)" opacity="0.8"/>
<circle cx="470.4" cy="123.8" r="0.65" fill="rgb(207,204,201)" opacity="0.8"/>
<circle cx="466.8" cy="151.2" r="0.37" fill="rgb(201,198,195)" opacity="0.8"/>
<circle cx="489.8" cy="129.5" r="0.26" fill="rgb(214,211,208)" opacity="0.8"/>
<circle cx="494.4" cy="127.5" r="0.33" fill="rgb(211,208,205)" opacity="0.8"/>
<circle cx="470.7" cy="150.8" r="0.42" fill="rgb(175,172,169)" opacity="0.8"/>
<circle cx="471.5" cy="145.9" r="0.41" fill="rgb(188,185,182)" opacity="0.8"/>
<circle cx="472.9" cy="119.4" r="0.26" fill="rgb(200,197,194)" opacity="0.8"/>
<circle cx="460.2" cy="145.3" r="0.41" fill="rgb(201,198,195)" opacity="0.8"/>
<circle cx="479.4" cy="127.8" r="0.45" fill="rgb(174,171,168)" opacity="0.8"/>
<circle cx="468.4" cy="119.4" r="0.32" fill="rgb(169,166,163)" opacity="0.8"/>
<circle cx="458.9" cy="132.6" r="0.57" fill="rgb(177,174,171)" opacity="0.8"/>
<circle cx="466.6" cy="146.6" r="0.27" fill="rgb(195,192,189)" opacity="0.8"/>
<circle cx="467.1" cy="137.3" r="0.50" fill="rgb(170,167,164)" opacity="0.8"/>
<circle cx="490.7" cy="137.8" r="0.58" fill="rgb(175,172,169)" opacity="0.8"/>
<circle cx="480.1" cy="147.3" r="0.50" fill="rgb(204,201,198)" opacity="0.8"/>
<circle cx="488.4" cy="146.2" r="0.32" fill="rgb(178,175,172)" opacity="0.8"/>
<circle cx="456.2" cy="150.6" r="0.31" fill="rgb(187,184,181)" opacity="0.8"/>
<circle cx="459.4" cy="122.8" r="0.54" fill="rgb(177,174,171)" opacity="0.8"/>
<circle cx="456.1" cy="135.5" r="0.55" fill="rgb(167,164,161)" opacity="0.8"/>
<circle cx="481.2" cy="125.9" r="0.41" fill="rgb(194,191,188)" opacity="0.8"/>
<circle cx="476.5" cy="138.1" r="0.37" fill="rgb(191,188,185)" opacity="0.8"/>
<circle cx="466.8" cy="122.9" r="0.41" fill="rgb(188,185,182)" opacity="0.8"/>
<circle cx="472.4" cy="130.5" r="0.26" fill="rgb(204,201,198)" opacity="0.8"/>
<circle cx="493.9" cy="131.6" r="0.43" fill="rgb(204,201,198)" opacity="0.8"/>
<circle cx="485.7" cy="131.3" r="0.32" fill="rgb(195,192,189)" opacity="0.8"/>
<circle cx="470.5" cy="115.6" r="0.39" fill="rgb(188,185,182)" opacity="0.8"/>
<circle cx="458.2" cy="130.7" r="0.45" fill="rgb(167,164,161)" opacity="0.8"/>
<circle cx="456.1" cy="118.1" r="0.62" fill="rgb(185,182,179)" opacity="0.8"/>
<circle cx="485.6" cy="133.5" r="0.27" fill="rgb(197,194,191)" opacity="0.8"/>
<circle cx="490.3" cy="139.1" r="0.56" fill="rgb(166,163,160)" opacity="0.8"/>
<circle cx="488.8" cy="152.9" r="0.54" fill="rgb(172,169,166)" opacity="0.8"/>
<circle cx="462.2" cy="152.4" r="0.45" fill="rgb(215,212,209)" opacity="0.8"/>
<circle cx="461.1" cy="144.6" r="0.62" fill="rgb(169,166,163)" opacity="0.8"/>
<circle cx="487.8" cy="137.4" r="0.35" fill="rgb(185,182,179)" opacity="0.8"/>
<circle cx="490.4" cy="124.0" r="0.58" fill="rgb(174,171,168)" opacity="0.8"/>
<circle cx="464.7" cy="151.7" r="0.44" fill="rgb(202,199,196)" opacity="0.8"/>
<circle cx="465.0" cy="133.2" r="0.38" fill="rgb(167,164,161)" opacity="0.8"/>
<circle cx="462.5" cy="129.1" r="0.50" fill="rgb(182,179,176)" opacity="0.8"/>
<circle cx="481.7" cy="148.9" r="0.32" fill="rgb(215,212,209)" opacity="0.8"/>
<circle cx="465.1" cy="143.8" r="0.27" fill="rgb(188,185,182)" opacity="0.8"/>
<circle cx="493.1" cy="131.1" r="0.46" fill="rgb(209,206,203)" opacity="0.8"/>
<circle cx="489.8" cy="117.1" r="0.65" fill="rgb(205,202,199)" opacity="0.8"/>
<circle cx="488.8" cy="142.6" r="0.40" fill="rgb(189,186,183)" opacity="0.8"/>
<circle cx="494.1" cy="136.1" r="0.39" fill="rgb(213,210,207)" opacity="0.8"/>
<ellipse cx="472.6" cy="133.2" rx="2.7" ry="2.6" fill="#86817e" filter="url(#blur1)"/>
<rect x="454.2" y="112.6" width="40.5" height="40.8" fill="none" stroke="#2b2b2b" stroke-width="1.1"/>
<text x="6.6" y="195.8" font-size="12.3" text-anchor="start" font-weight="bold" fill="#000">D</text>
<line x1="51.6" y1="211.0" x2="51.6" y2="331.2" stroke="#231f20" stroke-width="1.2"/>
<line x1="48.8" y1="212.75000000000003" x2="51.6" y2="212.75000000000003" stroke="#231f20" stroke-width="1.0"/>
<text x="46.5" y="215.65000000000003" font-size="8.4" text-anchor="end" fill="#231f20" stroke="#231f20" stroke-width="0.08">100</text>
<line x1="48.8" y1="234.32000000000002" x2="51.6" y2="234.32000000000002" stroke="#231f20" stroke-width="1.0"/>
<text x="46.5" y="237.22000000000003" font-size="8.4" text-anchor="end" fill="#231f20" stroke="#231f20" stroke-width="0.08">90</text>
<line x1="48.8" y1="255.89000000000001" x2="51.6" y2="255.89000000000001" stroke="#231f20" stroke-width="1.0"/>
<text x="46.5" y="258.79" font-size="8.4" text-anchor="end" fill="#231f20" stroke="#231f20" stroke-width="0.08">80</text>
<line x1="48.8" y1="277.46000000000004" x2="51.6" y2="277.46000000000004" stroke="#231f20" stroke-width="1.0"/>
<text x="46.5" y="280.36" font-size="8.4" text-anchor="end" fill="#231f20" stroke="#231f20" stroke-width="0.08">70</text>
<line x1="48.8" y1="299.03000000000003" x2="51.6" y2="299.03000000000003" stroke="#231f20" stroke-width="1.0"/>
<text x="46.5" y="301.93" font-size="8.4" text-anchor="end" fill="#231f20" stroke="#231f20" stroke-width="0.08">60</text>
<line x1="48.8" y1="320.6" x2="51.6" y2="320.6" stroke="#231f20" stroke-width="1.0"/>
<text x="46.5" y="323.5" font-size="8.4" text-anchor="end" fill="#231f20" stroke="#231f20" stroke-width="0.08">50</text>
<text x="46.5" y="333.5" font-size="8.4" text-anchor="end" fill="#231f20" stroke="#231f20" stroke-width="0.08">0</text>
<line x1="48.8" y1="330.6" x2="51.6" y2="330.6" stroke="#231f20" stroke-width="1.0"/>
<path d="M49.6 325.8 L53.6 323.2 M49.6 327.8 L53.6 325.2" stroke="#fff" stroke-width="1.6"/>
<path d="M49.6 325.6 L53.6 323.0 M49.6 328.0 L53.6 325.4" stroke="#231f20" stroke-width="0.7"/>
<line x1="51.0" y1="330.6" x2="145.8" y2="330.6" stroke="#231f20" stroke-width="1.3"/>
<text x="27.4" y="314.6" font-size="9.4" text-anchor="start" textLength="93" lengthAdjust="spacingAndGlyphs" transform="rotate(-90 27.4 314.6)" fill="#231f20" stroke="#231f20" stroke-width="0.08">% Mac-1/Gr-1 positive cells</text>
<line x1="61.199999999999996" y1="296.4416" x2="61.199999999999996" y2="298.8143" stroke="#333" stroke-width="0.9"/>
<line x1="59.699999999999996" y1="296.4416" x2="62.699999999999996" y2="296.4416" stroke="#333" stroke-width="1.0"/>
<rect x="58.8" y="298.8143" width="4.8" height="31.78570000000002" fill="#2a4a8a"/>
<line x1="68.7" y1="299.03000000000003" x2="68.7" y2="300.7556" stroke="#333" stroke-width="0.9"/>
<line x1="67.2" y1="299.03000000000003" x2="70.2" y2="299.03000000000003" stroke="#333" stroke-width="1.0"/>
<rect x="66.3" y="300.7556" width="4.8" height="29.844400000000007" fill="#2a4a8a"/>
<line x1="76.0" y1="290.83340000000004" x2="76.0" y2="294.716" stroke="#333" stroke-width="0.9"/>
<line x1="74.5" y1="290.83340000000004" x2="77.5" y2="290.83340000000004" stroke="#333" stroke-width="1.0"/>
<rect x="73.6" y="294.716" width="4.8" height="35.884000000000015" fill="#2a4a8a"/>
<line x1="91.4" y1="279.83270000000005" x2="91.4" y2="281.55830000000003" stroke="#333" stroke-width="0.9"/>
<line x1="89.9" y1="279.83270000000005" x2="92.9" y2="279.83270000000005" stroke="#333" stroke-width="1.0"/>
<rect x="89.0" y="281.55830000000003" width="4.8" height="49.04169999999999" fill="#b5701f"/>
<line x1="98.7" y1="270.7733" x2="98.7" y2="272.7146" stroke="#333" stroke-width="0.9"/>
<line x1="97.2" y1="270.7733" x2="100.2" y2="270.7733" stroke="#333" stroke-width="1.0"/>
<rect x="96.3" y="272.7146" width="4.8" height="57.885400000000004" fill="#b5701f"/>
<line x1="105.9" y1="254.5958" x2="105.9" y2="255.45860000000002" stroke="#333" stroke-width="0.9"/>
<line x1="104.4" y1="254.5958" x2="107.4" y2="254.5958" stroke="#333" stroke-width="1.0"/>
<rect x="103.5" y="255.45860000000002" width="4.8" height="75.1414" fill="#b5701f"/>
<line x1="121.2" y1="238.84970000000004" x2="121.2" y2="240.57530000000003" stroke="#333" stroke-width="0.9"/>
<line x1="119.7" y1="238.84970000000004" x2="122.7" y2="238.84970000000004" stroke="#333" stroke-width="1.0"/>
<rect x="118.8" y="240.57530000000003" width="4.8" height="90.0247" fill="#a5122d"/>
<line x1="128.4" y1="226.98620000000005" x2="128.4" y2="228.28040000000004" stroke="#333" stroke-width="0.9"/>
<line x1="126.9" y1="226.98620000000005" x2="129.9" y2="226.98620000000005" stroke="#333" stroke-width="1.0"/>
<rect x="126.0" y="228.28040000000004" width="4.8" height="102.31959999999998" fill="#a5122d"/>
<line x1="135.70000000000002" y1="218.3582" x2="135.70000000000002" y2="220.5152" stroke="#333" stroke-width="0.9"/>
<line x1="134.20000000000002" y1="218.3582" x2="137.20000000000002" y2="218.3582" stroke="#333" stroke-width="1.0"/>
<rect x="133.3" y="220.5152" width="4.8" height="110.08480000000003" fill="#a5122d"/>
<text x="61.0" y="341.3" font-size="8.4" text-anchor="middle" fill="#231f20" stroke="#231f20" stroke-width="0.08">2</text>
<text x="68.4" y="341.3" font-size="8.4" text-anchor="middle" fill="#231f20" stroke="#231f20" stroke-width="0.08">4</text>
<text x="75.8" y="341.3" font-size="8.4" text-anchor="middle" fill="#231f20" stroke="#231f20" stroke-width="0.08">6</text>
<text x="90.7" y="341.3" font-size="8.4" text-anchor="middle" fill="#231f20" stroke="#231f20" stroke-width="0.08">2</text>
<text x="98.2" y="341.3" font-size="8.4" text-anchor="middle" fill="#231f20" stroke="#231f20" stroke-width="0.08">4</text>
<text x="106.0" y="341.3" font-size="8.4" text-anchor="middle" fill="#231f20" stroke="#231f20" stroke-width="0.08">6</text>
<text x="120.7" y="341.3" font-size="8.4" text-anchor="middle" fill="#231f20" stroke="#231f20" stroke-width="0.08">2</text>
<text x="128.5" y="341.3" font-size="8.4" text-anchor="middle" fill="#231f20" stroke="#231f20" stroke-width="0.08">4</text>
<text x="135.7" y="341.3" font-size="8.4" text-anchor="middle" fill="#231f20" stroke="#231f20" stroke-width="0.08">6</text>
<text x="98.7" y="354.0" font-size="9.4" text-anchor="middle" textLength="16.5" lengthAdjust="spacingAndGlyphs" fill="#231f20" stroke="#231f20" stroke-width="0.08">Days</text>
<path d="M86.10 274.10L86.10 276.50M85.06 274.70L87.14 275.90M87.14 274.70L85.06 275.90M89.50 274.10L89.50 276.50M88.46 274.70L90.54 275.90M90.54 274.70L88.46 275.90M92.90 274.10L92.90 276.50M91.86 274.70L93.94 275.90M93.94 274.70L91.86 275.90" stroke="#1a1a1a" stroke-width="0.85" fill="none"/>
<path d="M89.60 265.40L89.60 267.80M88.56 266.00L90.64 267.20M90.64 266.00L88.56 267.20M93.00 265.40L93.00 267.80M91.96 266.00L94.04 267.20M94.04 266.00L91.96 267.20M96.40 265.40L96.40 267.80M95.36 266.00L97.44 267.20M97.44 266.00L95.36 267.20M99.80 265.40L99.80 267.80M98.76 266.00L100.84 267.20M100.84 266.00L98.76 267.20" stroke="#1a1a1a" stroke-width="0.85" fill="none"/>
<path d="M102.20 249.00L102.20 251.40M101.16 249.60L103.24 250.80M103.24 249.60L101.16 250.80M105.60 249.00L105.60 251.40M104.56 249.60L106.64 250.80M106.64 249.60L104.56 250.80M109.00 249.00L109.00 251.40M107.96 249.60L110.04 250.80M110.04 249.60L107.96 250.80M112.40 249.00L112.40 251.40M111.36 249.60L113.44 250.80M113.44 249.60L111.36 250.80" stroke="#1a1a1a" stroke-width="0.85" fill="none"/>
<path d="M113.30 233.40L113.30 235.80M112.26 234.00L114.34 235.20M114.34 234.00L112.26 235.20M116.70 233.40L116.70 235.80M115.66 234.00L117.74 235.20M117.74 234.00L115.66 235.20M120.10 233.40L120.10 235.80M119.06 234.00L121.14 235.20M121.14 234.00L119.06 235.20M123.50 233.40L123.50 235.80M122.46 234.00L124.54 235.20M124.54 234.00L122.46 235.20" stroke="#1a1a1a" stroke-width="0.85" fill="none"/>
<path d="M120.20 221.30L120.20 223.70M119.16 221.90L121.24 223.10M121.24 221.90L119.16 223.10M123.60 221.30L123.60 223.70M122.56 221.90L124.64 223.10M124.64 221.90L122.56 223.10M127.00 221.30L127.00 223.70M125.96 221.90L128.04 223.10M128.04 221.90L125.96 223.10M130.40 221.30L130.40 223.70M129.36 221.90L131.44 223.10M131.44 221.90L129.36 223.10" stroke="#1a1a1a" stroke-width="0.85" fill="none"/>
<path d="M129.10 212.30L129.10 214.70M128.06 212.90L130.14 214.10M130.14 212.90L128.06 214.10M132.50 212.30L132.50 214.70M131.46 212.90L133.54 214.10M133.54 212.90L131.46 214.10M135.90 212.30L135.90 214.70M134.86 212.90L136.94 214.10M136.94 212.90L134.86 214.10M139.30 212.30L139.30 214.70M138.26 212.90L140.34 214.10M140.34 212.90L138.26 214.10" stroke="#1a1a1a" stroke-width="0.85" fill="none"/>
<rect x="55.7" y="219.5" width="8.0" height="5.2" fill="#2a4a8a"/>
<text x="66.6" y="225.0" font-size="8.0" text-anchor="start" textLength="23.3" lengthAdjust="spacingAndGlyphs" fill="#231f20" stroke="#231f20" stroke-width="0.08">DMSO</text>
<text x="55.0" y="237.5" font-size="8.0" text-anchor="start" textLength="50.2" lengthAdjust="spacingAndGlyphs" fill="#231f20" stroke="#231f20" stroke-width="0.08">nM Palbociclib</text>
<rect x="55.7" y="240.6" width="8.0" height="5.2" fill="#b5701f"/>
<text x="66.6" y="246.0" font-size="8.0" text-anchor="start" fill="#231f20" stroke="#231f20" stroke-width="0.08">500</text>
<rect x="55.7" y="250.2" width="8.0" height="5.2" fill="#a5122d"/>
<text x="66.6" y="256.0" font-size="8.0" text-anchor="start" fill="#231f20" stroke="#231f20" stroke-width="0.08">4000</text>
<text x="161.6" y="195.6" font-size="12.3" text-anchor="start" font-weight="bold" fill="#000">E</text>
<text x="209.2" y="203.0" font-size="8.2" text-anchor="middle" fill="#231f20" stroke="#231f20" stroke-width="0.08">DMSO</text>
<text x="208.3" y="278.0" font-size="8.2" text-anchor="middle" textLength="73.5" lengthAdjust="spacingAndGlyphs" fill="#231f20" stroke="#231f20" stroke-width="0.08">Palbociclib (500 nM)</text>
<defs><clipPath id="clipE1"><rect x="180.7" y="206" width="56.5" height="56.6"/></clipPath><clipPath id="clipE2"><rect x="180.7" y="282.4" width="56.5" height="55.2"/></clipPath><radialGradient id="cellg" cx="0.45" cy="0.45" r="0.6"><stop offset="0" stop-color="#6a3c9e"/><stop offset="1" stop-color="#4e237f"/></radialGradient><radialGradient id="nucg" cx="0.45" cy="0.45" r="0.6"><stop offset="0" stop-color="#6e3f9f"/><stop offset="1" stop-color="#52267f"/></radialGradient></defs>
<rect x="180.7" y="206" width="56.5" height="56.6" fill="#fcfbfe"/>
<defs><radialGradient id="cellg2" cx="0.45" cy="0.45" r="0.65"><stop offset="0" stop-color="#5a3199"/><stop offset="0.7" stop-color="#572c9a"/><stop offset="1" stop-color="#7052ae"/></radialGradient></defs>
<defs><radialGradient id="nucg2" cx="0.4" cy="0.35" r="0.75"><stop offset="0" stop-color="#6c40a2"/><stop offset="1" stop-color="#532889"/></radialGradient></defs>
<g clip-path="url(#clipE1)">
<path d="M215.02 220.85 L214.89 221.53 L214.71 222.08 L210.55 226.50 L200.55 222.74 L200.43 222.50 L200.11 221.53 L199.92 220.52 L199.85 219.50 L199.92 218.48 L200.11 217.47 L200.43 216.50 L200.87 215.57 L201.43 214.72 L202.09 213.95 L202.84 213.27 L203.67 212.70 L204.57 212.25 L205.52 211.92 L206.50 211.72 L207.50 211.65 L208.50 211.72 L209.48 211.92 L210.43 212.25 L211.32 212.70 L211.84 213.05Z" fill="url(#cellg2)"/>
<path d="M220.28 220.79 L219.75 220.90 L219.00 220.95 L218.25 220.90 L217.51 220.74 L216.80 220.48 L216.12 220.13 L215.90 219.97 L213.35 213.72 L213.45 213.21 L213.69 212.45 L214.02 211.73 L214.44 211.06 L214.93 210.45 L215.50 209.92 L216.12 209.47 L216.80 209.12 L217.51 208.86 L218.25 208.70 L219.00 208.65 L219.75 208.70 L220.49 208.86 L221.20 209.12 L221.88 209.47 L222.50 209.92 L223.07 210.45 L223.56 211.06 L223.98 211.73 L224.31 212.45 L224.55 213.21 L224.70 214.00 L224.73 214.53Z" fill="url(#cellg2)"/>
<path d="M235.95 221.50 L235.89 222.49 L235.81 222.85 L226.55 228.81 L226.45 228.79 L225.51 228.48 L225.16 228.30 L220.89 222.16 L220.88 221.92 L226.35 214.24 L226.45 214.21 L227.41 214.01 L228.40 213.95 L229.39 214.01 L230.35 214.21 L231.29 214.52 L232.18 214.96 L233.00 215.51 L233.74 216.16 L234.39 216.90 L234.94 217.72 L235.38 218.61 L235.69 219.55 L235.89 220.51Z" fill="url(#cellg2)"/>
<path d="M210.35 230.40 L210.29 231.36 L210.11 232.30 L209.82 233.21 L209.53 233.84 L205.95 237.23 L205.20 237.50 L204.31 237.69 L203.76 237.73 L196.94 227.71 L196.98 227.59 L197.38 226.72 L197.89 225.93 L198.49 225.20 L199.17 224.57 L199.93 224.03 L200.26 223.86 L209.75 227.43 L209.82 227.59 L210.11 228.50 L210.29 229.44Z" fill="url(#cellg2)"/>
<path d="M224.15 229.00 L224.09 229.82 L224.09 229.84 L217.69 235.24 L217.60 235.25 L216.93 235.21 L212.71 233.14 L212.40 232.80 L211.93 232.12 L211.66 231.61 L211.25 227.47 L211.27 227.42 L215.26 223.17 L215.90 222.96 L216.75 222.80 L217.60 222.75 L218.45 222.80 L219.30 222.96 L220.11 223.23 L220.30 223.32 L224.14 228.85Z" fill="url(#cellg2)"/>
<path d="M239.85 230.20 L239.80 231.03 L239.65 231.84 L239.40 232.63 L239.07 233.38 L238.64 234.07 L238.14 234.69 L237.56 235.24 L236.93 235.70 L236.24 236.07 L235.51 236.33 L234.76 236.50 L234.00 236.55 L233.33 236.50 L228.18 230.69 L228.15 230.20 L228.20 229.37 L228.25 229.08 L235.85 224.19 L236.24 224.33 L236.93 224.70 L237.56 225.16 L238.14 225.71 L238.64 226.33 L239.07 227.02 L239.40 227.77 L239.65 228.56 L239.80 229.37Z" fill="url(#cellg2)"/>
<path d="M189.96 239.87 L189.91 239.91 L184.70 240.69 L184.50 240.61 L183.82 240.19 L183.20 239.67 L182.63 239.06 L182.14 238.35 L181.72 237.57 L181.39 236.74 L181.15 235.85 L181.00 234.93 L180.95 234.00 L181.00 233.07 L181.15 232.15 L181.39 231.26 L181.72 230.43 L182.14 229.65 L182.63 228.94 L183.20 228.33 L183.82 227.81 L184.50 227.39 L185.21 227.09 L185.95 226.91 L186.70 226.85 L187.45 226.91 L188.19 227.09 L188.90 227.39 L189.57 227.81 L190.20 228.33 L190.77 228.94 L191.26 229.65 L191.34 229.79Z" fill="url(#cellg2)"/>
<path d="M202.13 237.38 L201.88 238.30 L201.53 239.23 L201.08 240.08 L200.75 240.56 L195.55 242.71 L191.68 240.60 L191.32 240.08 L191.14 239.73 L192.61 228.94 L193.12 228.50 L193.85 228.05 L194.61 227.72 L195.40 227.52 L195.42 227.52Z" fill="url(#cellg2)"/>
<path d="M217.58 241.90 L217.39 242.27 L209.64 244.53 L209.43 244.43 L208.80 244.04 L208.23 243.58 L207.74 243.06 L207.32 242.48 L206.99 241.85 L206.75 241.18 L206.60 240.50 L206.55 239.80 L206.60 239.10 L206.75 238.42 L206.94 237.87 L210.14 234.84 L210.81 234.63 L211.55 234.50 L212.30 234.45 L212.84 234.48 L216.71 236.38 L216.83 236.51Z" fill="url(#cellg2)"/>
<path d="M232.75 238.00 L232.69 238.99 L232.49 239.95 L232.18 240.89 L231.74 241.78 L231.19 242.60 L230.70 243.16 L224.70 245.52 L224.21 245.49 L223.25 245.29 L222.31 244.98 L221.93 244.79 L218.85 242.06 L218.75 241.90 L217.99 236.50 L225.15 230.45 L225.20 230.45 L226.19 230.51 L226.55 230.59 L232.72 237.55Z" fill="url(#cellg2)"/>
<path d="M195.35 252.29 L195.27 252.47 L194.73 253.30 L194.10 254.04 L193.37 254.69 L192.58 255.24 L191.71 255.68 L190.80 255.99 L189.86 256.19 L188.90 256.25 L187.94 256.19 L187.00 255.99 L186.09 255.68 L185.22 255.24 L184.43 254.69 L183.70 254.04 L183.07 253.30 L182.53 252.47 L182.11 251.59 L181.80 250.65 L181.61 249.69 L181.55 248.70 L181.61 247.71 L181.80 246.75 L182.11 245.81 L182.53 244.92 L183.07 244.10 L183.70 243.36 L184.43 242.71 L185.22 242.16 L186.09 241.72 L186.48 241.59 L189.25 241.17 L189.86 241.21 L190.73 241.39 L193.72 243.02 L194.10 243.36 L194.73 244.10 L194.84 244.27Z" fill="url(#cellg2)"/>
<path d="M207.12 249.72 L206.90 250.44 L206.55 251.22 L206.12 251.95 L205.61 252.60 L205.02 253.18 L204.38 253.66 L203.68 254.04 L202.94 254.32 L202.18 254.49 L201.40 254.55 L200.62 254.49 L199.86 254.32 L199.12 254.04 L198.43 253.66 L197.78 253.18 L197.19 252.60 L196.68 251.95 L196.46 251.58 L196.04 245.04 L196.25 244.58 L196.68 243.85 L197.10 243.31 L201.99 241.29 L202.18 241.31 L202.94 241.48 L203.68 241.76 L204.38 242.14 L205.02 242.62 L205.61 243.20 L206.12 243.85 L206.55 244.57 L206.90 245.36 L207.15 246.18 L207.30 247.03 L207.34 247.70Z" fill="url(#cellg2)"/>
<path d="M222.45 249.40 L222.39 250.31 L222.20 251.20 L221.89 252.06 L221.47 252.88 L220.93 253.63 L220.30 254.31 L219.57 254.91 L218.78 255.42 L217.91 255.82 L217.00 256.11 L216.06 256.29 L215.10 256.35 L214.14 256.29 L213.20 256.11 L212.29 255.82 L211.42 255.42 L210.63 254.91 L209.90 254.31 L209.27 253.63 L208.73 252.88 L208.31 252.06 L208.09 251.44 L208.68 246.04 L208.69 246.00 L218.35 243.19 L218.43 243.22 L221.44 245.89 L221.47 245.93 L221.89 246.74 L222.20 247.60 L222.39 248.49Z" fill="url(#cellg2)"/>
<path d="M236.35 250.70 L236.30 251.57 L236.14 252.42 L235.88 253.24 L235.53 254.02 L235.08 254.75 L234.55 255.40 L233.94 255.98 L233.27 256.46 L232.55 256.84 L231.79 257.12 L231.61 257.16 L228.18 256.97 L227.85 256.84 L227.12 256.46 L226.46 255.98 L225.85 255.40 L225.32 254.75 L224.87 254.02 L224.52 253.24 L224.26 252.42 L224.10 251.57 L224.05 250.70 L224.10 249.83 L224.26 248.98 L224.52 248.16 L224.87 247.38 L225.32 246.65 L225.49 246.44 L231.27 244.17 L231.79 244.28 L232.55 244.56 L233.27 244.94 L233.94 245.42 L234.55 246.00 L235.08 246.65 L235.53 247.38 L235.88 248.16 L236.14 248.98 L236.30 249.83Z" fill="url(#cellg2)"/>
<path d="M191.35 262.00 L191.30 262.50 L191.15 263.00 L190.90 263.47 L190.57 263.93 L190.14 264.34 L189.64 264.72 L189.06 265.05 L188.43 265.33 L187.74 265.56 L187.01 265.72 L186.26 265.82 L185.50 265.85 L184.74 265.82 L183.99 265.72 L183.26 265.56 L182.57 265.33 L181.94 265.05 L181.36 264.72 L180.86 264.34 L180.43 263.93 L180.10 263.47 L179.85 263.00 L179.70 262.50 L179.65 262.00 L179.70 261.50 L179.85 261.00 L180.10 260.53 L180.43 260.07 L180.86 259.66 L181.36 259.28 L181.94 258.95 L182.57 258.67 L183.26 258.44 L183.99 258.28 L184.74 258.18 L185.50 258.15 L186.26 258.18 L187.01 258.28 L187.74 258.44 L188.43 258.67 L189.06 258.95 L189.64 259.28 L190.14 259.66 L190.57 260.07 L190.90 260.53 L191.15 261.00 L191.30 261.50Z" fill="url(#cellg2)"/>
<path d="M235.85 263.00 L235.80 263.46 L235.63 263.92 L235.37 264.36 L235.00 264.77 L234.54 265.16 L233.99 265.51 L233.37 265.82 L232.68 266.07 L231.93 266.28 L231.14 266.43 L230.33 266.52 L229.50 266.55 L228.67 266.52 L227.86 266.43 L227.07 266.28 L226.32 266.07 L225.63 265.82 L225.01 265.51 L224.46 265.16 L224.00 264.77 L223.63 264.36 L223.37 263.92 L223.20 263.46 L223.15 263.00 L223.20 262.54 L223.37 262.08 L223.63 261.64 L224.00 261.23 L224.46 260.84 L225.01 260.49 L225.63 260.18 L226.32 259.93 L227.07 259.72 L227.86 259.57 L228.67 259.48 L229.50 259.45 L230.33 259.48 L231.14 259.57 L231.93 259.72 L232.68 259.93 L233.37 260.18 L233.99 260.49 L234.54 260.84 L235.00 261.23 L235.37 261.64 L235.63 262.08 L235.80 262.54Z" fill="url(#cellg2)"/>
</g>
<rect x="180.7" y="206" width="56.5" height="56.6" fill="none" stroke="#231f20" stroke-width="1.1"/>
<rect x="180.7" y="282.4" width="56.5" height="55.2" fill="#f5f4fa"/>
<g clip-path="url(#clipE2)">
<ellipse cx="212.0" cy="293.0" rx="10.5" ry="10.5" fill="#c9c4e2" stroke="#f7f6fb" stroke-width="0.8"/>
<ellipse cx="193.0" cy="303.0" rx="10.0" ry="9.5" fill="#c9c4e2" stroke="#f7f6fb" stroke-width="0.8"/>
<ellipse cx="216.0" cy="311.5" rx="12.0" ry="10.0" fill="#c9c4e2" stroke="#f7f6fb" stroke-width="0.8"/>
<ellipse cx="233" cy="318" rx="6.5" ry="8.5" fill="#c9c4e2" stroke="#f7f6fb" stroke-width="0.8"/>
<ellipse cx="228.7" cy="292.0" rx="7.0" ry="7.5" fill="#c9c4e2" stroke="#f7f6fb" stroke-width="0.8"/>
<ellipse cx="197.8" cy="290.0" rx="7.8" ry="6.5" fill="#c9c4e2" stroke="#f7f6fb" stroke-width="0.8"/>
<ellipse cx="196.5" cy="316.5" rx="7.0" ry="6.0" fill="#c9c4e2" stroke="#f7f6fb" stroke-width="0.8"/>
<ellipse cx="206.5" cy="321.5" rx="7.5" ry="6.5" fill="#c9c4e2" stroke="#f7f6fb" stroke-width="0.8"/>
<ellipse cx="225.2" cy="328.0" rx="8.5" ry="7.5" fill="#c9c4e2" stroke="#f7f6fb" stroke-width="0.8"/>
<ellipse cx="197.8" cy="333.0" rx="8.5" ry="7.0" fill="#c9c4e2" stroke="#f7f6fb" stroke-width="0.8"/>
<ellipse cx="185.5" cy="332.0" rx="5.5" ry="7.5" fill="#c9c4e2" stroke="#f7f6fb" stroke-width="0.8"/>
<ellipse cx="216.5" cy="335.5" rx="8.5" ry="6.0" fill="#c9c4e2" stroke="#f7f6fb" stroke-width="0.8"/>
<ellipse cx="221" cy="285" rx="5" ry="4" fill="#c9c4e2" stroke="#f7f6fb" stroke-width="0.8"/>
<ellipse cx="183" cy="300" rx="4" ry="10" fill="#c9c4e2" stroke="#f7f6fb" stroke-width="0.8"/>
<ellipse cx="236" cy="300" rx="4" ry="6" fill="#c9c4e2" stroke="#f7f6fb" stroke-width="0.8"/>
<ellipse cx="197.8" cy="287.7" rx="6.0" ry="4.6" fill="url(#nucg2)"/>
<ellipse cx="212.0" cy="293.8" rx="5.3" ry="5.0" fill="url(#nucg2)"/>
<ellipse cx="228.7" cy="290.5" rx="4.7" ry="4.5" fill="url(#nucg2)"/>
<ellipse cx="220.7" cy="285.0" rx="3.9" ry="2.8" fill="url(#nucg2)"/>
<ellipse cx="194.7" cy="302.4" rx="4.8" ry="4.7" fill="url(#nucg2)"/>
<ellipse cx="204.8" cy="307.8" rx="5.3" ry="3.9" fill="url(#nucg2)"/>
<ellipse cx="215.1" cy="312.6" rx="4.6" ry="4.8" fill="url(#nucg2)"/>
<ellipse cx="196.2" cy="315.4" rx="5.0" ry="4.2" fill="url(#nucg2)"/>
<ellipse cx="206.2" cy="320.3" rx="5.6" ry="4.7" fill="url(#nucg2)"/>
<ellipse cx="231.9" cy="318.0" rx="4.4" ry="5.9" fill="url(#nucg2)"/>
<ellipse cx="225.2" cy="327.0" rx="6.6" ry="5.3" fill="url(#nucg2)"/>
<ellipse cx="197.8" cy="331.7" rx="6.0" ry="5.0" fill="url(#nucg2)"/>
<ellipse cx="185.0" cy="331.2" rx="3.8" ry="5.6" fill="url(#nucg2)"/>
<ellipse cx="216.5" cy="334.2" rx="5.9" ry="3.9" fill="url(#nucg2)"/>
</g>
<rect x="180.7" y="282.4" width="56.5" height="55.2" fill="none" stroke="#231f20" stroke-width="1.1"/>
<text x="261.8" y="195.6" font-size="12.3" text-anchor="start" font-weight="bold" fill="#000">F</text>
<line x1="300.6" y1="211.5" x2="300.6" y2="331.2" stroke="#231f20" stroke-width="1.2"/>
<line x1="297.8" y1="330.6" x2="300.6" y2="330.6" stroke="#231f20" stroke-width="1.0"/>
<text x="295.3" y="333.5" font-size="8.4" text-anchor="end" fill="#231f20" stroke="#231f20" stroke-width="0.08">0</text>
<line x1="297.8" y1="301.35" x2="300.6" y2="301.35" stroke="#231f20" stroke-width="1.0"/>
<text x="295.3" y="304.25" font-size="8.4" text-anchor="end" fill="#231f20" stroke="#231f20" stroke-width="0.08">20</text>
<line x1="297.8" y1="272.1" x2="300.6" y2="272.1" stroke="#231f20" stroke-width="1.0"/>
<text x="295.3" y="275.0" font-size="8.4" text-anchor="end" fill="#231f20" stroke="#231f20" stroke-width="0.08">40</text>
<line x1="297.8" y1="242.85000000000002" x2="300.6" y2="242.85000000000002" stroke="#231f20" stroke-width="1.0"/>
<text x="295.3" y="245.75000000000003" font-size="8.4" text-anchor="end" fill="#231f20" stroke="#231f20" stroke-width="0.08">60</text>
<line x1="297.8" y1="213.60000000000002" x2="300.6" y2="213.60000000000002" stroke="#231f20" stroke-width="1.0"/>
<text x="295.3" y="216.50000000000003" font-size="8.4" text-anchor="end" fill="#231f20" stroke="#231f20" stroke-width="0.08">80</text>
<line x1="300.0" y1="330.6" x2="394.0" y2="330.6" stroke="#231f20" stroke-width="1.3"/>
<text x="279.1" y="314.6" font-size="9.4" text-anchor="start" textLength="87" lengthAdjust="spacingAndGlyphs" transform="rotate(-90 279.1 314.6)" fill="#231f20" stroke="#231f20" stroke-width="0.08">% annexin V positive cells</text>
<line x1="308.5" y1="301.0575" x2="308.5" y2="303.39750000000004" stroke="#333" stroke-width="0.9"/>
<line x1="307.0" y1="301.0575" x2="310.0" y2="301.0575" stroke="#333" stroke-width="1.0"/>
<rect x="306.2" y="303.39750000000004" width="4.6" height="27.202499999999986" fill="#2a4a8a"/>
<line x1="315.90000000000003" y1="298.13250000000005" x2="315.90000000000003" y2="299.88750000000005" stroke="#333" stroke-width="0.9"/>
<line x1="314.40000000000003" y1="298.13250000000005" x2="317.40000000000003" y2="298.13250000000005" stroke="#333" stroke-width="1.0"/>
<rect x="313.6" y="299.88750000000005" width="4.6" height="30.712499999999977" fill="#2a4a8a"/>
<line x1="323.3" y1="305.15250000000003" x2="323.3" y2="306.32250000000005" stroke="#333" stroke-width="0.9"/>
<line x1="321.8" y1="305.15250000000003" x2="324.8" y2="305.15250000000003" stroke="#333" stroke-width="1.0"/>
<rect x="321.0" y="306.32250000000005" width="4.6" height="24.277499999999975" fill="#2a4a8a"/>
<line x1="339.5" y1="293.59875" x2="339.5" y2="295.93875" stroke="#333" stroke-width="0.9"/>
<line x1="338.0" y1="293.59875" x2="341.0" y2="293.59875" stroke="#333" stroke-width="1.0"/>
<rect x="337.2" y="295.93875" width="4.6" height="34.661249999999995" fill="#b5701f"/>
<line x1="346.8" y1="288.62625" x2="346.8" y2="289.79625000000004" stroke="#333" stroke-width="0.9"/>
<line x1="345.3" y1="288.62625" x2="348.3" y2="288.62625" stroke="#333" stroke-width="1.0"/>
<rect x="344.5" y="289.79625000000004" width="4.6" height="40.80374999999998" fill="#b5701f"/>
<line x1="354.2" y1="288.62625" x2="354.2" y2="289.79625000000004" stroke="#333" stroke-width="0.9"/>
<line x1="352.7" y1="288.62625" x2="355.7" y2="288.62625" stroke="#333" stroke-width="1.0"/>
<rect x="351.9" y="289.79625000000004" width="4.6" height="40.80374999999998" fill="#b5701f"/>
<line x1="370.1" y1="277.51125" x2="370.1" y2="281.46000000000004" stroke="#333" stroke-width="0.9"/>
<line x1="368.6" y1="277.51125" x2="371.6" y2="277.51125" stroke="#333" stroke-width="1.0"/>
<rect x="367.8" y="281.46000000000004" width="4.6" height="49.139999999999986" fill="#a5122d"/>
<line x1="377.3" y1="253.6725" x2="377.3" y2="256.01250000000005" stroke="#333" stroke-width="0.9"/>
<line x1="375.8" y1="253.6725" x2="378.8" y2="253.6725" stroke="#333" stroke-width="1.0"/>
<rect x="375.0" y="256.01250000000005" width="4.6" height="74.58749999999998" fill="#a5122d"/>
<line x1="384.6" y1="226.61625000000004" x2="384.6" y2="231.00375000000003" stroke="#333" stroke-width="0.9"/>
<line x1="383.1" y1="226.61625000000004" x2="386.1" y2="226.61625000000004" stroke="#333" stroke-width="1.0"/>
<rect x="382.3" y="231.00375000000003" width="4.6" height="99.59625" fill="#a5122d"/>
<text x="308.5" y="341.0" font-size="8.4" text-anchor="middle" fill="#231f20" stroke="#231f20" stroke-width="0.08">2</text>
<text x="315.7" y="341.0" font-size="8.4" text-anchor="middle" fill="#231f20" stroke="#231f20" stroke-width="0.08">4</text>
<text x="323.1" y="341.0" font-size="8.4" text-anchor="middle" fill="#231f20" stroke="#231f20" stroke-width="0.08">6</text>
<text x="339.2" y="341.0" font-size="8.4" text-anchor="middle" fill="#231f20" stroke="#231f20" stroke-width="0.08">2</text>
<text x="346.7" y="341.0" font-size="8.4" text-anchor="middle" fill="#231f20" stroke="#231f20" stroke-width="0.08">4</text>
<text x="353.8" y="341.0" font-size="8.4" text-anchor="middle" fill="#231f20" stroke="#231f20" stroke-width="0.08">6</text>
<text x="370.0" y="341.0" font-size="8.4" text-anchor="middle" fill="#231f20" stroke="#231f20" stroke-width="0.08">2</text>
<text x="377.0" y="341.0" font-size="8.4" text-anchor="middle" fill="#231f20" stroke="#231f20" stroke-width="0.08">4</text>
<text x="384.7" y="341.0" font-size="8.4" text-anchor="middle" fill="#231f20" stroke="#231f20" stroke-width="0.08">6</text>
<text x="346.9" y="353.0" font-size="9.4" text-anchor="middle" textLength="16.5" lengthAdjust="spacingAndGlyphs" fill="#231f20" stroke="#231f20" stroke-width="0.08">Days</text>
<path d="M339.50 288.30L339.50 290.70M338.46 288.90L340.54 290.10M340.54 288.90L338.46 290.10" stroke="#1a1a1a" stroke-width="0.85" fill="none"/>
<path d="M345.30 282.30L345.30 284.70M344.26 282.90L346.34 284.10M346.34 282.90L344.26 284.10M348.70 282.30L348.70 284.70M347.66 282.90L349.74 284.10M349.74 282.90L347.66 284.10" stroke="#1a1a1a" stroke-width="0.85" fill="none"/>
<path d="M353.10 282.30L353.10 284.70M352.06 282.90L354.14 284.10M354.14 282.90L352.06 284.10M356.50 282.30L356.50 284.70M355.46 282.90L357.54 284.10M357.54 282.90L355.46 284.10M359.90 282.30L359.90 284.70M358.86 282.90L360.94 284.10M360.94 282.90L358.86 284.10" stroke="#1a1a1a" stroke-width="0.85" fill="none"/>
<path d="M368.30 272.40L368.30 274.80M367.26 273.00L369.34 274.20M369.34 273.00L367.26 274.20M371.70 272.40L371.70 274.80M370.66 273.00L372.74 274.20M372.74 273.00L370.66 274.20" stroke="#1a1a1a" stroke-width="0.85" fill="none"/>
<path d="M369.90 248.20L369.90 250.60M368.86 248.80L370.94 250.00M370.94 248.80L368.86 250.00M373.30 248.20L373.30 250.60M372.26 248.80L374.34 250.00M374.34 248.80L372.26 250.00M376.70 248.20L376.70 250.60M375.66 248.80L377.74 250.00M377.74 248.80L375.66 250.00M380.10 248.20L380.10 250.60M379.06 248.80L381.14 250.00M381.14 248.80L379.06 250.00" stroke="#1a1a1a" stroke-width="0.85" fill="none"/>
<path d="M379.80 219.80L379.80 222.20M378.76 220.40L380.84 221.60M380.84 220.40L378.76 221.60M383.20 219.80L383.20 222.20M382.16 220.40L384.24 221.60M384.24 220.40L382.16 221.60M386.60 219.80L386.60 222.20M385.56 220.40L387.64 221.60M387.64 220.40L385.56 221.60M390.00 219.80L390.00 222.20M388.96 220.40L391.04 221.60M391.04 220.40L388.96 221.60" stroke="#1a1a1a" stroke-width="0.85" fill="none"/>
<rect x="306.9" y="220.5" width="8.1" height="3.9" fill="#2a4a8a"/>
<text x="317.8" y="225.2" font-size="8.0" text-anchor="start" textLength="23.0" lengthAdjust="spacingAndGlyphs" fill="#231f20" stroke="#231f20" stroke-width="0.08">DMSO</text>
<text x="305.8" y="237.2" font-size="8.0" text-anchor="start" textLength="50.3" lengthAdjust="spacingAndGlyphs" fill="#231f20" stroke="#231f20" stroke-width="0.08">nM Palbociclib</text>
<rect x="306.9" y="241.5" width="8.1" height="4.0" fill="#b5701f"/>
<text x="317.8" y="246.3" font-size="8.0" text-anchor="start" fill="#231f20" stroke="#231f20" stroke-width="0.08">500</text>
<rect x="306.9" y="251.0" width="8.1" height="4.0" fill="#a5122d"/>
<text x="317.8" y="255.8" font-size="8.0" text-anchor="start" fill="#231f20" stroke="#231f20" stroke-width="0.08">4000</text>
<text x="6.4" y="375.9" font-size="12.3" text-anchor="start" font-weight="bold" fill="#000">G</text>
<text x="80.5" y="383.7" font-size="9.4" text-anchor="start" textLength="93" lengthAdjust="spacing" fill="#231f20" stroke="#231f20" stroke-width="0.1">mouse leukemia cells</text>
<line x1="49.25" y1="389.5" x2="49.25" y2="505.1" stroke="#231f20" stroke-width="1.2"/>
<line x1="46.5" y1="504.5" x2="49.25" y2="504.5" stroke="#231f20" stroke-width="1.0"/>
<text x="44.0" y="507.4" font-size="8.4" text-anchor="end" fill="#231f20" stroke="#231f20" stroke-width="0.08">0</text>
<line x1="46.5" y1="478.25" x2="49.25" y2="478.25" stroke="#231f20" stroke-width="1.0"/>
<text x="44.0" y="481.15" font-size="8.4" text-anchor="end" fill="#231f20" stroke="#231f20" stroke-width="0.08">25</text>
<line x1="46.5" y1="452.0" x2="49.25" y2="452.0" stroke="#231f20" stroke-width="1.0"/>
<text x="44.0" y="454.9" font-size="8.4" text-anchor="end" fill="#231f20" stroke="#231f20" stroke-width="0.08">50</text>
<line x1="46.5" y1="425.75" x2="49.25" y2="425.75" stroke="#231f20" stroke-width="1.0"/>
<text x="44.0" y="428.65" font-size="8.4" text-anchor="end" fill="#231f20" stroke="#231f20" stroke-width="0.08">75</text>
<line x1="46.5" y1="399.5" x2="49.25" y2="399.5" stroke="#231f20" stroke-width="1.0"/>
<text x="44.0" y="402.4" font-size="8.4" text-anchor="end" fill="#231f20" stroke="#231f20" stroke-width="0.08">100</text>
<line x1="48.7" y1="504.5" x2="204.5" y2="504.5" stroke="#231f20" stroke-width="1.3"/>
<line x1="50.0" y1="504.5" x2="50.0" y2="507.3" stroke="#231f20" stroke-width="1.0"/>
<text x="51.5" y="518.0" font-size="8.4" text-anchor="middle" fill="#231f20" stroke="#231f20" stroke-width="0.08">10<tspan font-size="5.71" dy="-3.2">0</tspan></text>
<line x1="59.18141486775143" y1="504.5" x2="59.18141486775143" y2="506.0" stroke="#231f20" stroke-width="0.6"/>
<line x1="64.55219826894971" y1="504.5" x2="64.55219826894971" y2="506.0" stroke="#231f20" stroke-width="0.6"/>
<line x1="68.36282973550286" y1="504.5" x2="68.36282973550286" y2="506.0" stroke="#231f20" stroke-width="0.6"/>
<line x1="71.31858513224857" y1="504.5" x2="71.31858513224857" y2="506.0" stroke="#231f20" stroke-width="0.6"/>
<line x1="73.73361313670114" y1="504.5" x2="73.73361313670114" y2="506.0" stroke="#231f20" stroke-width="0.6"/>
<line x1="75.77549022043483" y1="504.5" x2="75.77549022043483" y2="506.0" stroke="#231f20" stroke-width="0.6"/>
<line x1="77.54424460325427" y1="504.5" x2="77.54424460325427" y2="506.0" stroke="#231f20" stroke-width="0.6"/>
<line x1="79.1043965378994" y1="504.5" x2="79.1043965378994" y2="506.0" stroke="#231f20" stroke-width="0.6"/>
<line x1="80.5" y1="504.5" x2="80.5" y2="507.3" stroke="#231f20" stroke-width="1.0"/>
<text x="82.0" y="518.0" font-size="8.4" text-anchor="middle" fill="#231f20" stroke="#231f20" stroke-width="0.08">10<tspan font-size="5.71" dy="-3.2">1</tspan></text>
<line x1="89.68141486775143" y1="504.5" x2="89.68141486775143" y2="506.0" stroke="#231f20" stroke-width="0.6"/>
<line x1="95.0521982689497" y1="504.5" x2="95.0521982689497" y2="506.0" stroke="#231f20" stroke-width="0.6"/>
<line x1="98.86282973550286" y1="504.5" x2="98.86282973550286" y2="506.0" stroke="#231f20" stroke-width="0.6"/>
<line x1="101.81858513224857" y1="504.5" x2="101.81858513224857" y2="506.0" stroke="#231f20" stroke-width="0.6"/>
<line x1="104.23361313670114" y1="504.5" x2="104.23361313670114" y2="506.0" stroke="#231f20" stroke-width="0.6"/>
<line x1="106.27549022043483" y1="504.5" x2="106.27549022043483" y2="506.0" stroke="#231f20" stroke-width="0.6"/>
<line x1="108.04424460325427" y1="504.5" x2="108.04424460325427" y2="506.0" stroke="#231f20" stroke-width="0.6"/>
<line x1="109.6043965378994" y1="504.5" x2="109.6043965378994" y2="506.0" stroke="#231f20" stroke-width="0.6"/>
<line x1="111.0" y1="504.5" x2="111.0" y2="507.3" stroke="#231f20" stroke-width="1.0"/>
<text x="112.5" y="518.0" font-size="8.4" text-anchor="middle" fill="#231f20" stroke="#231f20" stroke-width="0.08">10<tspan font-size="5.71" dy="-3.2">2</tspan></text>
<line x1="120.18141486775143" y1="504.5" x2="120.18141486775143" y2="506.0" stroke="#231f20" stroke-width="0.6"/>
<line x1="125.55219826894971" y1="504.5" x2="125.55219826894971" y2="506.0" stroke="#231f20" stroke-width="0.6"/>
<line x1="129.36282973550286" y1="504.5" x2="129.36282973550286" y2="506.0" stroke="#231f20" stroke-width="0.6"/>
<line x1="132.3185851322486" y1="504.5" x2="132.3185851322486" y2="506.0" stroke="#231f20" stroke-width="0.6"/>
<line x1="134.73361313670114" y1="504.5" x2="134.73361313670114" y2="506.0" stroke="#231f20" stroke-width="0.6"/>
<line x1="136.77549022043485" y1="504.5" x2="136.77549022043485" y2="506.0" stroke="#231f20" stroke-width="0.6"/>
<line x1="138.5442446032543" y1="504.5" x2="138.5442446032543" y2="506.0" stroke="#231f20" stroke-width="0.6"/>
<line x1="140.1043965378994" y1="504.5" x2="140.1043965378994" y2="506.0" stroke="#231f20" stroke-width="0.6"/>
<line x1="141.5" y1="504.5" x2="141.5" y2="507.3" stroke="#231f20" stroke-width="1.0"/>
<text x="143.0" y="518.0" font-size="8.4" text-anchor="middle" fill="#231f20" stroke="#231f20" stroke-width="0.08">10<tspan font-size="5.71" dy="-3.2">3</tspan></text>
<line x1="150.6814148677514" y1="504.5" x2="150.6814148677514" y2="506.0" stroke="#231f20" stroke-width="0.6"/>
<line x1="156.05219826894972" y1="504.5" x2="156.05219826894972" y2="506.0" stroke="#231f20" stroke-width="0.6"/>
<line x1="159.86282973550286" y1="504.5" x2="159.86282973550286" y2="506.0" stroke="#231f20" stroke-width="0.6"/>
<line x1="162.8185851322486" y1="504.5" x2="162.8185851322486" y2="506.0" stroke="#231f20" stroke-width="0.6"/>
<line x1="165.23361313670114" y1="504.5" x2="165.23361313670114" y2="506.0" stroke="#231f20" stroke-width="0.6"/>
<line x1="167.27549022043485" y1="504.5" x2="167.27549022043485" y2="506.0" stroke="#231f20" stroke-width="0.6"/>
<line x1="169.0442446032543" y1="504.5" x2="169.0442446032543" y2="506.0" stroke="#231f20" stroke-width="0.6"/>
<line x1="170.6043965378994" y1="504.5" x2="170.6043965378994" y2="506.0" stroke="#231f20" stroke-width="0.6"/>
<line x1="172.0" y1="504.5" x2="172.0" y2="507.3" stroke="#231f20" stroke-width="1.0"/>
<text x="173.5" y="518.0" font-size="8.4" text-anchor="middle" fill="#231f20" stroke="#231f20" stroke-width="0.08">10<tspan font-size="5.71" dy="-3.2">4</tspan></text>
<line x1="181.1814148677514" y1="504.5" x2="181.1814148677514" y2="506.0" stroke="#231f20" stroke-width="0.6"/>
<line x1="186.55219826894972" y1="504.5" x2="186.55219826894972" y2="506.0" stroke="#231f20" stroke-width="0.6"/>
<line x1="190.36282973550286" y1="504.5" x2="190.36282973550286" y2="506.0" stroke="#231f20" stroke-width="0.6"/>
<line x1="193.3185851322486" y1="504.5" x2="193.3185851322486" y2="506.0" stroke="#231f20" stroke-width="0.6"/>
<line x1="195.73361313670114" y1="504.5" x2="195.73361313670114" y2="506.0" stroke="#231f20" stroke-width="0.6"/>
<line x1="197.77549022043485" y1="504.5" x2="197.77549022043485" y2="506.0" stroke="#231f20" stroke-width="0.6"/>
<line x1="199.5442446032543" y1="504.5" x2="199.5442446032543" y2="506.0" stroke="#231f20" stroke-width="0.6"/>
<line x1="201.10439653789942" y1="504.5" x2="201.10439653789942" y2="506.0" stroke="#231f20" stroke-width="0.6"/>
<line x1="202.5" y1="504.5" x2="202.5" y2="507.3" stroke="#231f20" stroke-width="1.0"/>
<text x="204.0" y="518.0" font-size="8.4" text-anchor="middle" fill="#231f20" stroke="#231f20" stroke-width="0.08">10<tspan font-size="5.71" dy="-3.2">5</tspan></text>
<text x="23.6" y="480.6" font-size="9.4" text-anchor="start" textLength="70" lengthAdjust="spacingAndGlyphs" transform="rotate(-90 23.6 480.6)" fill="#231f20" stroke="#231f20" stroke-width="0.08">Relative viability (%)</text>
<text x="95.75" y="530.8" font-size="9.8" text-anchor="start" textLength="63" lengthAdjust="spacingAndGlyphs" fill="#231f20" stroke="#231f20" stroke-width="0.08">c(Palbociclib) [nM]</text>
<polyline points="50.00,403.36 51.09,403.36 52.19,403.36 53.28,403.36 54.37,403.36 55.46,403.36 56.56,403.36 57.65,403.36 58.74,403.36 59.84,403.36 60.93,403.36 62.02,403.36 63.11,403.36 64.21,403.36 65.30,403.36 66.39,403.36 67.49,403.36 68.58,403.36 69.67,403.36 70.77,403.36 71.86,403.36 72.95,403.36 74.04,403.36 75.14,403.36 76.23,403.36 77.32,403.36 78.42,403.36 79.51,403.36 80.60,403.36 81.69,403.36 82.79,403.36 83.88,403.36 84.97,403.36 86.07,403.36 87.16,403.36 88.25,403.36 89.34,403.36 90.44,403.36 91.53,403.36 92.62,403.36 93.72,403.36 94.81,403.36 95.90,403.36 97.00,403.36 98.09,403.36 99.18,403.36 100.27,403.36 101.37,403.37 102.46,403.37 103.55,403.37 104.65,403.37 105.74,403.38 106.83,403.38 107.92,403.39 109.02,403.40 110.11,403.41 111.20,403.42 112.30,403.44 113.39,403.46 114.48,403.49 115.58,403.52 116.67,403.57 117.76,403.62 118.85,403.70 119.95,403.79 121.04,403.90 122.13,404.05 123.23,404.23 124.32,404.47 125.41,404.76 126.50,405.13 127.60,405.60 128.69,406.19 129.78,406.92 130.88,407.84 131.97,408.98 133.06,410.39 134.15,412.12 135.25,414.22 136.34,416.76 137.43,419.77 138.53,423.31 139.62,427.39 140.71,432.00 141.81,437.10 142.90,442.61 143.99,448.40 145.08,454.31 146.18,460.20 147.27,465.89 148.36,471.24 149.46,476.14 150.55,480.53 151.64,484.38 152.73,487.70 153.83,490.51 154.92,492.85 156.01,494.79 157.11,496.38 158.20,497.67 159.29,498.71 160.38,499.55 161.48,500.22 162.57,500.76 163.66,501.18 164.76,501.52 165.85,501.78 166.94,502.00 168.03,502.16 169.13,502.30 170.22,502.40 171.31,502.48 172.41,502.55 173.50,502.60 174.59,502.64 175.69,502.67 176.78,502.70 177.87,502.72 178.96,502.73 180.06,502.74 181.15,502.75" fill="none" stroke="#c9c9c9" stroke-width="1.0" stroke-linejoin="round"/>
<polyline points="50.00,402.70 51.09,403.13 52.19,403.57 53.28,404.03 54.37,404.50 55.46,404.98 56.56,405.48 57.65,405.99 58.74,406.51 59.84,407.05 60.93,407.60 62.02,408.17 63.11,408.75 64.21,409.35 65.30,409.96 66.39,410.59 67.49,411.23 68.58,411.88 69.67,412.56 70.77,413.24 71.86,413.95 72.95,414.67 74.04,415.41 75.14,416.16 76.23,416.92 77.32,417.71 78.42,418.51 79.51,419.32 80.60,420.16 81.69,421.00 82.79,421.87 83.88,422.75 84.97,423.64 86.07,424.55 87.16,425.47 88.25,426.41 89.34,427.36 90.44,428.33 91.53,429.31 92.62,430.31 93.72,431.31 94.81,432.33 95.90,433.37 97.00,434.41 98.09,435.47 99.18,436.53 100.27,437.61 101.37,438.69 102.46,439.79 103.55,440.89 104.65,442.00 105.74,443.12 106.83,444.25 107.92,445.38 109.02,446.52 110.11,447.66 111.20,448.80 112.30,449.95 113.39,451.10 114.48,452.25 115.58,453.40 116.67,454.55 117.76,455.70 118.85,456.85 119.95,458.00 121.04,459.14 122.13,460.29 123.23,461.42 124.32,462.55 125.41,463.68 126.50,464.80 127.60,465.91 128.69,467.01 129.78,468.11 130.88,469.20 131.97,470.27 133.06,471.34 134.15,472.40 135.25,473.44 136.34,474.47 137.43,475.49 138.53,476.50 139.62,477.50 140.71,478.48 141.81,479.45 142.90,480.40 143.99,481.34 145.08,482.27 146.18,483.18 147.27,484.07 148.36,484.95 149.46,485.81 150.55,486.66 151.64,487.49 152.73,488.31 153.83,489.11 154.92,489.90 156.01,490.66 157.11,491.42 158.20,492.15 159.29,492.88 160.38,493.58 161.48,494.27 162.57,494.94 163.66,495.60 164.76,496.24 165.85,496.87 166.94,497.48 168.03,498.08 169.13,498.66 170.22,499.23 171.31,499.78 172.41,500.32 173.50,500.85 174.59,501.36 175.69,501.85 176.78,502.34 177.87,502.81 178.96,503.27 180.06,503.71 181.15,504.14" fill="none" stroke="#4b9fdb" stroke-width="1.15" stroke-linejoin="round"/>
<polyline points="50.00,399.00 51.09,399.31 52.19,399.63 53.28,399.96 54.37,400.32 55.46,400.70 56.56,401.10 57.65,401.52 58.74,401.96 59.84,402.43 60.93,402.92 62.02,403.44 63.11,403.99 64.21,404.56 65.30,405.16 66.39,405.80 67.49,406.46 68.58,407.16 69.67,407.90 70.77,408.66 71.86,409.46 72.95,410.30 74.04,411.18 75.14,412.09 76.23,413.05 77.32,414.04 78.42,415.07 79.51,416.14 80.60,417.26 81.69,418.41 82.79,419.60 83.88,420.83 84.97,422.11 86.07,423.42 87.16,424.77 88.25,426.16 89.34,427.58 90.44,429.04 91.53,430.53 92.62,432.05 93.72,433.60 94.81,435.18 95.90,436.79 97.00,438.41 98.09,440.06 99.18,441.72 100.27,443.40 101.37,445.08 102.46,446.78 103.55,448.47 104.65,450.17 105.74,451.87 106.83,453.56 107.92,455.24 109.02,456.91 110.11,458.57 111.20,460.21 112.30,461.83 113.39,463.42 114.48,464.99 115.58,466.53 116.67,468.04 117.76,469.52 118.85,470.97 119.95,472.38 121.04,473.75 122.13,475.08 123.23,476.38 124.32,477.64 125.41,478.86 126.50,480.04 127.60,481.17 128.69,482.27 129.78,483.33 130.88,484.34 131.97,485.32 133.06,486.26 134.15,487.16 135.25,488.02 136.34,488.85 137.43,489.64 138.53,490.39 139.62,491.11 140.71,491.80 141.81,492.45 142.90,493.07 143.99,493.67 145.08,494.23 146.18,494.76 147.27,495.27 148.36,495.76 149.46,496.22 150.55,496.65 151.64,497.06 152.73,497.45 153.83,497.82 154.92,498.17 156.01,498.50 157.11,498.82 158.20,499.11 159.29,499.39 160.38,499.66 161.48,499.91 162.57,500.14 163.66,500.37 164.76,500.58 165.85,500.77 166.94,500.96 168.03,501.14 169.13,501.30 170.22,501.46 171.31,501.61 172.41,501.75 173.50,501.88 174.59,502.01 175.69,502.12 176.78,502.23 177.87,502.34 178.96,502.43 180.06,502.53 181.15,502.61" fill="none" stroke="#6cab3c" stroke-width="1.15" stroke-linejoin="round"/>
<polyline points="50.00,409.35 51.09,409.62 52.19,409.90 53.28,410.20 54.37,410.51 55.46,410.82 56.56,411.15 57.65,411.50 58.74,411.85 59.84,412.22 60.93,412.60 62.02,413.00 63.11,413.41 64.21,413.84 65.30,414.28 66.39,414.74 67.49,415.21 68.58,415.70 69.67,416.20 70.77,416.73 71.86,417.27 72.95,417.82 74.04,418.40 75.14,418.99 76.23,419.60 77.32,420.24 78.42,420.89 79.51,421.56 80.60,422.24 81.69,422.95 82.79,423.68 83.88,424.43 84.97,425.20 86.07,425.98 87.16,426.79 88.25,427.62 89.34,428.47 90.44,429.33 91.53,430.22 92.62,431.12 93.72,432.05 94.81,432.99 95.90,433.95 97.00,434.93 98.09,435.93 99.18,436.94 100.27,437.97 101.37,439.01 102.46,440.07 103.55,441.14 104.65,442.23 105.74,443.33 106.83,444.44 107.92,445.56 109.02,446.69 110.11,447.83 111.20,448.98 112.30,450.13 113.39,451.29 114.48,452.45 115.58,453.62 116.67,454.79 117.76,455.96 118.85,457.13 119.95,458.30 121.04,459.47 122.13,460.63 123.23,461.79 124.32,462.95 125.41,464.09 126.50,465.23 127.60,466.36 128.69,467.48 129.78,468.59 130.88,469.69 131.97,470.78 133.06,471.85 134.15,472.91 135.25,473.95 136.34,474.98 137.43,475.99 138.53,476.99 139.62,477.96 140.71,478.92 141.81,479.87 142.90,480.79 143.99,481.69 145.08,482.58 146.18,483.45 147.27,484.29 148.36,485.12 149.46,485.93 150.55,486.71 151.64,487.48 152.73,488.23 153.83,488.95 154.92,489.66 156.01,490.35 157.11,491.02 158.20,491.67 159.29,492.30 160.38,492.91 161.48,493.50 162.57,494.08 163.66,494.63 164.76,495.17 165.85,495.70 166.94,496.20 168.03,496.69 169.13,497.16 170.22,497.62 171.31,498.06 172.41,498.48 173.50,498.89 174.59,499.29 175.69,499.67 176.78,500.04 177.87,500.40 178.96,500.74 180.06,501.07 181.15,501.38" fill="none" stroke="#2b4590" stroke-width="1.15" stroke-linejoin="round"/>
<polyline points="50.00,396.67 51.09,396.76 52.19,396.86 53.28,396.97 54.37,397.09 55.46,397.22 56.56,397.35 57.65,397.50 58.74,397.66 59.84,397.83 60.93,398.01 62.02,398.20 63.11,398.41 64.21,398.63 65.30,398.87 66.39,399.13 67.49,399.40 68.58,399.69 69.67,400.01 70.77,400.34 71.86,400.70 72.95,401.09 74.04,401.50 75.14,401.94 76.23,402.41 77.32,402.91 78.42,403.44 79.51,404.00 80.60,404.61 81.69,405.25 82.79,405.93 83.88,406.65 84.97,407.42 86.07,408.23 87.16,409.09 88.25,410.00 89.34,410.96 90.44,411.97 91.53,413.04 92.62,414.16 93.72,415.33 94.81,416.57 95.90,417.86 97.00,419.21 98.09,420.61 99.18,422.08 100.27,423.60 101.37,425.17 102.46,426.81 103.55,428.49 104.65,430.23 105.74,432.01 106.83,433.84 107.92,435.71 109.02,437.62 110.11,439.56 111.20,441.54 112.30,443.53 113.39,445.55 114.48,447.58 115.58,449.62 116.67,451.67 117.76,453.71 118.85,455.74 119.95,457.76 121.04,459.76 122.13,461.74 123.23,463.69 124.32,465.61 125.41,467.49 126.50,469.33 127.60,471.12 128.69,472.87 129.78,474.57 130.88,476.21 131.97,477.80 133.06,479.33 134.15,480.81 135.25,482.23 136.34,483.59 137.43,484.90 138.53,486.14 139.62,487.33 140.71,488.47 141.81,489.54 142.90,490.57 143.99,491.54 145.08,492.46 146.18,493.33 147.27,494.15 148.36,494.93 149.46,495.66 150.55,496.35 151.64,497.00 152.73,497.61 153.83,498.19 154.92,498.73 156.01,499.24 157.11,499.71 158.20,500.16 159.29,500.57 160.38,500.96 161.48,501.33 162.57,501.67 163.66,501.99 164.76,502.29 165.85,502.57 166.94,502.83 168.03,503.07 169.13,503.30 170.22,503.51 171.31,503.70 172.41,503.89 173.50,504.06 174.59,504.22 175.69,504.37 176.78,504.51 177.87,504.63 178.96,504.75 180.06,504.87 181.15,504.97" fill="none" stroke="#b3173c" stroke-width="1.15" stroke-linejoin="round"/>
<line x1="50.61" y1="409.625" x2="50.61" y2="415.625" stroke="#2b4590" stroke-width="0.7"/>
<line x1="49.61" y1="409.625" x2="51.61" y2="409.625" stroke="#2b4590" stroke-width="0.7"/>
<line x1="49.61" y1="415.625" x2="51.61" y2="415.625" stroke="#2b4590" stroke-width="0.7"/>
<rect x="49.51" y="411.525" width="2.2" height="2.2" fill="#2b4590"/>
<rect x="63.84499999999999" y="419.92499999999995" width="2.2" height="2.2" fill="#2b4590"/>
<line x1="93.92" y1="428.46" x2="93.92" y2="444.46" stroke="#2b4590" stroke-width="0.7"/>
<line x1="92.92" y1="428.46" x2="94.92" y2="428.46" stroke="#2b4590" stroke-width="0.7"/>
<line x1="92.92" y1="444.46" x2="94.92" y2="444.46" stroke="#2b4590" stroke-width="0.7"/>
<rect x="92.82000000000001" y="435.35999999999996" width="2.2" height="2.2" fill="#2b4590"/>
<line x1="108.56" y1="447.635" x2="108.56" y2="453.635" stroke="#2b4590" stroke-width="0.7"/>
<line x1="107.56" y1="447.635" x2="109.56" y2="447.635" stroke="#2b4590" stroke-width="0.7"/>
<line x1="107.56" y1="453.635" x2="109.56" y2="453.635" stroke="#2b4590" stroke-width="0.7"/>
<rect x="107.46000000000001" y="449.53499999999997" width="2.2" height="2.2" fill="#2b4590"/>
<line x1="122.59" y1="457.4" x2="122.59" y2="463.4" stroke="#2b4590" stroke-width="0.7"/>
<line x1="121.59" y1="457.4" x2="123.59" y2="457.4" stroke="#2b4590" stroke-width="0.7"/>
<line x1="121.59" y1="463.4" x2="123.59" y2="463.4" stroke="#2b4590" stroke-width="0.7"/>
<rect x="121.49000000000001" y="459.29999999999995" width="2.2" height="2.2" fill="#2b4590"/>
<rect x="136.13" y="474.0" width="2.2" height="2.2" fill="#2b4590"/>
<line x1="151.87" y1="482.6" x2="151.87" y2="488.6" stroke="#2b4590" stroke-width="0.7"/>
<line x1="150.87" y1="482.6" x2="152.87" y2="482.6" stroke="#2b4590" stroke-width="0.7"/>
<line x1="150.87" y1="488.6" x2="152.87" y2="488.6" stroke="#2b4590" stroke-width="0.7"/>
<rect x="150.77" y="484.5" width="2.2" height="2.2" fill="#2b4590"/>
<rect x="165.41" y="495.0" width="2.2" height="2.2" fill="#2b4590"/>
<rect x="179.44000000000003" y="501.29999999999995" width="2.2" height="2.2" fill="#2b4590"/>
<line x1="50.61" y1="403.48" x2="50.61" y2="411.48" stroke="#4b9fdb" stroke-width="0.7"/>
<line x1="49.61" y1="403.48" x2="51.61" y2="403.48" stroke="#4b9fdb" stroke-width="0.7"/>
<line x1="49.61" y1="411.48" x2="51.61" y2="411.48" stroke="#4b9fdb" stroke-width="0.7"/>
<rect x="49.51" y="406.38" width="2.2" height="2.2" fill="#4b9fdb"/>
<line x1="64.945" y1="398.39" x2="64.945" y2="404.39" stroke="#4b9fdb" stroke-width="0.7"/>
<line x1="63.94499999999999" y1="398.39" x2="65.945" y2="398.39" stroke="#4b9fdb" stroke-width="0.7"/>
<line x1="63.94499999999999" y1="404.39" x2="65.945" y2="404.39" stroke="#4b9fdb" stroke-width="0.7"/>
<rect x="63.84499999999999" y="400.28999999999996" width="2.2" height="2.2" fill="#4b9fdb"/>
<line x1="79.58500000000001" y1="422.375" x2="79.58500000000001" y2="434.375" stroke="#4b9fdb" stroke-width="0.7"/>
<line x1="78.58500000000001" y1="422.375" x2="80.58500000000001" y2="422.375" stroke="#4b9fdb" stroke-width="0.7"/>
<line x1="78.58500000000001" y1="434.375" x2="80.58500000000001" y2="434.375" stroke="#4b9fdb" stroke-width="0.7"/>
<rect x="78.48500000000001" y="427.275" width="2.2" height="2.2" fill="#4b9fdb"/>
<line x1="93.92" y1="426.37" x2="93.92" y2="434.37" stroke="#4b9fdb" stroke-width="0.7"/>
<line x1="92.92" y1="426.37" x2="94.92" y2="426.37" stroke="#4b9fdb" stroke-width="0.7"/>
<line x1="92.92" y1="434.37" x2="94.92" y2="434.37" stroke="#4b9fdb" stroke-width="0.7"/>
<rect x="92.82000000000001" y="429.27" width="2.2" height="2.2" fill="#4b9fdb"/>
<rect x="107.46000000000001" y="444.59999999999997" width="2.2" height="2.2" fill="#4b9fdb"/>
<line x1="122.59" y1="458.45" x2="122.59" y2="464.45" stroke="#4b9fdb" stroke-width="0.7"/>
<line x1="121.59" y1="458.45" x2="123.59" y2="458.45" stroke="#4b9fdb" stroke-width="0.7"/>
<line x1="121.59" y1="464.45" x2="123.59" y2="464.45" stroke="#4b9fdb" stroke-width="0.7"/>
<rect x="121.49000000000001" y="460.34999999999997" width="2.2" height="2.2" fill="#4b9fdb"/>
<line x1="137.23" y1="472.1" x2="137.23" y2="478.1" stroke="#4b9fdb" stroke-width="0.7"/>
<line x1="136.23" y1="472.1" x2="138.23" y2="472.1" stroke="#4b9fdb" stroke-width="0.7"/>
<line x1="136.23" y1="478.1" x2="138.23" y2="478.1" stroke="#4b9fdb" stroke-width="0.7"/>
<rect x="136.13" y="474.0" width="2.2" height="2.2" fill="#4b9fdb"/>
<line x1="151.87" y1="481.55" x2="151.87" y2="487.55" stroke="#4b9fdb" stroke-width="0.7"/>
<line x1="150.87" y1="481.55" x2="152.87" y2="481.55" stroke="#4b9fdb" stroke-width="0.7"/>
<line x1="150.87" y1="487.55" x2="152.87" y2="487.55" stroke="#4b9fdb" stroke-width="0.7"/>
<rect x="150.77" y="483.45" width="2.2" height="2.2" fill="#4b9fdb"/>
<rect x="165.41" y="496.04999999999995" width="2.2" height="2.2" fill="#4b9fdb"/>
<rect x="179.44000000000003" y="502.34999999999997" width="2.2" height="2.2" fill="#4b9fdb"/>
<line x1="64.945" y1="393.03499999999997" x2="64.945" y2="399.03499999999997" stroke="#6cab3c" stroke-width="0.7"/>
<line x1="63.94499999999999" y1="393.03499999999997" x2="65.945" y2="393.03499999999997" stroke="#6cab3c" stroke-width="0.7"/>
<line x1="63.94499999999999" y1="399.03499999999997" x2="65.945" y2="399.03499999999997" stroke="#6cab3c" stroke-width="0.7"/>
<rect x="63.84499999999999" y="394.93499999999995" width="2.2" height="2.2" fill="#6cab3c"/>
<line x1="79.58500000000001" y1="410.93" x2="79.58500000000001" y2="422.93" stroke="#6cab3c" stroke-width="0.7"/>
<line x1="78.58500000000001" y1="410.93" x2="80.58500000000001" y2="410.93" stroke="#6cab3c" stroke-width="0.7"/>
<line x1="78.58500000000001" y1="422.93" x2="80.58500000000001" y2="422.93" stroke="#6cab3c" stroke-width="0.7"/>
<rect x="78.48500000000001" y="415.83" width="2.2" height="2.2" fill="#6cab3c"/>
<rect x="92.82000000000001" y="439.34999999999997" width="2.2" height="2.2" fill="#6cab3c"/>
<rect x="107.46000000000001" y="457.515" width="2.2" height="2.2" fill="#6cab3c"/>
<rect x="121.49000000000001" y="475.78499999999997" width="2.2" height="2.2" fill="#6cab3c"/>
<rect x="136.13" y="487.65" width="2.2" height="2.2" fill="#6cab3c"/>
<rect x="150.77" y="495.0" width="2.2" height="2.2" fill="#6cab3c"/>
<rect x="165.41" y="499.2" width="2.2" height="2.2" fill="#6cab3c"/>
<rect x="179.44000000000003" y="502.34999999999997" width="2.2" height="2.2" fill="#6cab3c"/>
<line x1="50.61" y1="398.55" x2="50.61" y2="402.55" stroke="#b3173c" stroke-width="0.7"/>
<line x1="49.61" y1="398.55" x2="51.61" y2="398.55" stroke="#b3173c" stroke-width="0.7"/>
<line x1="49.61" y1="402.55" x2="51.61" y2="402.55" stroke="#b3173c" stroke-width="0.7"/>
<rect x="49.51" y="399.45" width="2.2" height="2.2" fill="#b3173c"/>
<line x1="64.945" y1="397.185" x2="64.945" y2="401.185" stroke="#b3173c" stroke-width="0.7"/>
<line x1="63.94499999999999" y1="397.185" x2="65.945" y2="397.185" stroke="#b3173c" stroke-width="0.7"/>
<line x1="63.94499999999999" y1="401.185" x2="65.945" y2="401.185" stroke="#b3173c" stroke-width="0.7"/>
<rect x="63.84499999999999" y="398.085" width="2.2" height="2.2" fill="#b3173c"/>
<line x1="79.58500000000001" y1="397.025" x2="79.58500000000001" y2="403.025" stroke="#b3173c" stroke-width="0.7"/>
<line x1="78.58500000000001" y1="397.025" x2="80.58500000000001" y2="397.025" stroke="#b3173c" stroke-width="0.7"/>
<line x1="78.58500000000001" y1="403.025" x2="80.58500000000001" y2="403.025" stroke="#b3173c" stroke-width="0.7"/>
<rect x="78.48500000000001" y="398.92499999999995" width="2.2" height="2.2" fill="#b3173c"/>
<line x1="93.92" y1="401.75" x2="93.92" y2="407.75" stroke="#b3173c" stroke-width="0.7"/>
<line x1="92.92" y1="401.75" x2="94.92" y2="401.75" stroke="#b3173c" stroke-width="0.7"/>
<line x1="92.92" y1="407.75" x2="94.92" y2="407.75" stroke="#b3173c" stroke-width="0.7"/>
<rect x="92.82000000000001" y="403.65" width="2.2" height="2.2" fill="#b3173c"/>
<line x1="108.56" y1="444.16499999999996" x2="108.56" y2="454.16499999999996" stroke="#b3173c" stroke-width="0.7"/>
<line x1="107.56" y1="444.16499999999996" x2="109.56" y2="444.16499999999996" stroke="#b3173c" stroke-width="0.7"/>
<line x1="107.56" y1="454.16499999999996" x2="109.56" y2="454.16499999999996" stroke="#b3173c" stroke-width="0.7"/>
<rect x="107.46000000000001" y="448.06499999999994" width="2.2" height="2.2" fill="#b3173c"/>
<line x1="122.59" y1="453.35" x2="122.59" y2="465.35" stroke="#b3173c" stroke-width="0.7"/>
<line x1="121.59" y1="453.35" x2="123.59" y2="453.35" stroke="#b3173c" stroke-width="0.7"/>
<line x1="121.59" y1="465.35" x2="123.59" y2="465.35" stroke="#b3173c" stroke-width="0.7"/>
<rect x="121.49000000000001" y="458.25" width="2.2" height="2.2" fill="#b3173c"/>
<line x1="137.23" y1="482.6" x2="137.23" y2="488.6" stroke="#b3173c" stroke-width="0.7"/>
<line x1="136.23" y1="482.6" x2="138.23" y2="482.6" stroke="#b3173c" stroke-width="0.7"/>
<line x1="136.23" y1="488.6" x2="138.23" y2="488.6" stroke="#b3173c" stroke-width="0.7"/>
<rect x="136.13" y="484.5" width="2.2" height="2.2" fill="#b3173c"/>
<rect x="150.77" y="496.575" width="2.2" height="2.2" fill="#b3173c"/>
<rect x="165.41" y="501.29999999999995" width="2.2" height="2.2" fill="#b3173c"/>
<rect x="179.44000000000003" y="502.34999999999997" width="2.2" height="2.2" fill="#b3173c"/>
<rect x="107.76" y="398.59499999999997" width="1.6" height="1.6" fill="#c9c9c9"/>
<rect x="121.79" y="401.84999999999997" width="1.6" height="1.6" fill="#c9c9c9"/>
<line x1="137.23" y1="425.85" x2="137.23" y2="429.85" stroke="#c9c9c9" stroke-width="0.7"/>
<line x1="136.23" y1="425.85" x2="138.23" y2="425.85" stroke="#c9c9c9" stroke-width="0.7"/>
<line x1="136.23" y1="429.85" x2="138.23" y2="429.85" stroke="#c9c9c9" stroke-width="0.7"/>
<rect x="136.42999999999998" y="427.05" width="1.6" height="1.6" fill="#c9c9c9"/>
<rect x="150.45999999999998" y="482.7" width="1.6" height="1.6" fill="#c9c9c9"/>
<rect x="165.70999999999998" y="499.5" width="1.6" height="1.6" fill="#c9c9c9"/>
<text x="205.4" y="404.5" font-size="5.8" text-anchor="start" textLength="24.6" lengthAdjust="spacingAndGlyphs" fill="#231f20" stroke="#231f20" stroke-width="0.08">EC50[nM]</text>
<line x1="149.2" y1="406.9" x2="230.4" y2="406.9" stroke="#3c3c3c" stroke-width="1.1"/>
<line x1="149.2" y1="413.7" x2="230.4" y2="413.7" stroke="#3c3c3c" stroke-width="1.0"/>
<line x1="149.2" y1="420.1" x2="230.4" y2="420.1" stroke="#3c3c3c" stroke-width="1.0"/>
<line x1="149.2" y1="426.7" x2="230.4" y2="426.7" stroke="#3c3c3c" stroke-width="1.0"/>
<line x1="149.2" y1="433.0" x2="230.4" y2="433.0" stroke="#3c3c3c" stroke-width="1.0"/>
<line x1="204.4" y1="406.9" x2="204.4" y2="439.2" stroke="#3c3c3c" stroke-width="0.9"/>
<line x1="149.6" y1="410.4" x2="155.4" y2="410.4" stroke="#2b4590" stroke-width="1.3"/>
<text x="157.9" y="412.4" font-size="5.8" text-anchor="start" textLength="40.8" lengthAdjust="spacingAndGlyphs" fill="#231f20">NUP98/JARID1A</text>
<text x="206.3" y="412.4" font-size="5.8" text-anchor="start" fill="#231f20">145</text>
<line x1="149.6" y1="416.95" x2="155.4" y2="416.95" stroke="#6cab3c" stroke-width="1.3"/>
<text x="157.9" y="418.95" font-size="5.8" text-anchor="start" textLength="33.1" lengthAdjust="spacingAndGlyphs" fill="#231f20">NUP98/NSD1</text>
<text x="206.3" y="418.95" font-size="5.8" text-anchor="start" fill="#231f20">53</text>
<line x1="149.6" y1="423.5" x2="155.4" y2="423.5" stroke="#4b9fdb" stroke-width="1.3"/>
<text x="157.9" y="425.5" font-size="5.8" text-anchor="start" textLength="36.9" lengthAdjust="spacingAndGlyphs" fill="#231f20">NUP98/DDX10</text>
<text x="206.3" y="425.5" font-size="5.8" text-anchor="start" fill="#231f20">147</text>
<line x1="149.6" y1="430.04999999999995" x2="155.4" y2="430.04999999999995" stroke="#b3173c" stroke-width="1.3"/>
<text x="157.9" y="432.04999999999995" font-size="5.8" text-anchor="start" textLength="23.4" lengthAdjust="spacingAndGlyphs" fill="#231f20">MLL/AF9</text>
<text x="206.3" y="432.04999999999995" font-size="5.8" text-anchor="start" fill="#231f20">144</text>
<line x1="149.6" y1="436.59999999999997" x2="155.4" y2="436.59999999999997" stroke="#c9c9c9" stroke-width="1.3"/>
<text x="157.9" y="438.59999999999997" font-size="5.8" text-anchor="start" textLength="28.3" lengthAdjust="spacingAndGlyphs" fill="#231f20">AML1/ETO9</text>
<text x="206.3" y="438.59999999999997" font-size="5.8" text-anchor="start" fill="#231f20">1271</text>
<text x="240.6" y="375.7" font-size="12.3" text-anchor="start" font-weight="bold" fill="#000">H</text>
<text x="298.25" y="383.7" font-size="9.4" text-anchor="start" textLength="128" lengthAdjust="spacing" fill="#231f20" stroke="#231f20" stroke-width="0.1">primary human leukemia cells</text>
<line x1="283.9" y1="389.5" x2="283.9" y2="505.6" stroke="#231f20" stroke-width="1.2"/>
<line x1="281.1" y1="505.0" x2="283.9" y2="505.0" stroke="#231f20" stroke-width="1.0"/>
<text x="278.6" y="507.9" font-size="8.4" text-anchor="end" fill="#231f20" stroke="#231f20" stroke-width="0.08">0</text>
<line x1="281.1" y1="480.0" x2="283.9" y2="480.0" stroke="#231f20" stroke-width="1.0"/>
<text x="278.6" y="482.9" font-size="8.4" text-anchor="end" fill="#231f20" stroke="#231f20" stroke-width="0.08">25</text>
<line x1="281.1" y1="455.0" x2="283.9" y2="455.0" stroke="#231f20" stroke-width="1.0"/>
<text x="278.6" y="457.9" font-size="8.4" text-anchor="end" fill="#231f20" stroke="#231f20" stroke-width="0.08">50</text>
<line x1="281.1" y1="430.0" x2="283.9" y2="430.0" stroke="#231f20" stroke-width="1.0"/>
<text x="278.6" y="432.9" font-size="8.4" text-anchor="end" fill="#231f20" stroke="#231f20" stroke-width="0.08">75</text>
<line x1="281.1" y1="405.0" x2="283.9" y2="405.0" stroke="#231f20" stroke-width="1.0"/>
<text x="278.6" y="407.9" font-size="8.4" text-anchor="end" fill="#231f20" stroke="#231f20" stroke-width="0.08">100</text>
<line x1="283.3" y1="505.0" x2="441.3" y2="505.0" stroke="#231f20" stroke-width="1.3"/>
<line x1="285.0" y1="505" x2="285.0" y2="507.8" stroke="#231f20" stroke-width="1.0"/>
<text x="286.8" y="518.3" font-size="8.4" text-anchor="middle" fill="#231f20" stroke="#231f20" stroke-width="0.08">10<tspan font-size="5.71" dy="-3.2">-1</tspan></text>
<line x1="292.7665738881307" y1="505" x2="292.7665738881307" y2="506.5" stroke="#231f20" stroke-width="0.6"/>
<line x1="297.3097283717673" y1="505" x2="297.3097283717673" y2="506.5" stroke="#231f20" stroke-width="0.6"/>
<line x1="300.53314777626144" y1="505" x2="300.53314777626144" y2="506.5" stroke="#231f20" stroke-width="0.6"/>
<line x1="303.0334261118693" y1="505" x2="303.0334261118693" y2="506.5" stroke="#231f20" stroke-width="0.6"/>
<line x1="305.076302259898" y1="505" x2="305.076302259898" y2="506.5" stroke="#231f20" stroke-width="0.6"/>
<line x1="306.80352943236784" y1="505" x2="306.80352943236784" y2="506.5" stroke="#231f20" stroke-width="0.6"/>
<line x1="308.29972166439217" y1="505" x2="308.29972166439217" y2="506.5" stroke="#231f20" stroke-width="0.6"/>
<line x1="309.61945674353456" y1="505" x2="309.61945674353456" y2="506.5" stroke="#231f20" stroke-width="0.6"/>
<line x1="310.8" y1="505" x2="310.8" y2="507.8" stroke="#231f20" stroke-width="1.0"/>
<text x="312.6" y="518.3" font-size="8.4" text-anchor="middle" fill="#231f20" stroke="#231f20" stroke-width="0.08">10<tspan font-size="5.71" dy="-3.2">0</tspan></text>
<line x1="318.56657388813073" y1="505" x2="318.56657388813073" y2="506.5" stroke="#231f20" stroke-width="0.6"/>
<line x1="323.1097283717673" y1="505" x2="323.1097283717673" y2="506.5" stroke="#231f20" stroke-width="0.6"/>
<line x1="326.33314777626146" y1="505" x2="326.33314777626146" y2="506.5" stroke="#231f20" stroke-width="0.6"/>
<line x1="328.8334261118693" y1="505" x2="328.8334261118693" y2="506.5" stroke="#231f20" stroke-width="0.6"/>
<line x1="330.876302259898" y1="505" x2="330.876302259898" y2="506.5" stroke="#231f20" stroke-width="0.6"/>
<line x1="332.60352943236785" y1="505" x2="332.60352943236785" y2="506.5" stroke="#231f20" stroke-width="0.6"/>
<line x1="334.0997216643921" y1="505" x2="334.0997216643921" y2="506.5" stroke="#231f20" stroke-width="0.6"/>
<line x1="335.41945674353457" y1="505" x2="335.41945674353457" y2="506.5" stroke="#231f20" stroke-width="0.6"/>
<line x1="336.6" y1="505" x2="336.6" y2="507.8" stroke="#231f20" stroke-width="1.0"/>
<text x="338.40000000000003" y="518.3" font-size="8.4" text-anchor="middle" fill="#231f20" stroke="#231f20" stroke-width="0.08">10<tspan font-size="5.71" dy="-3.2">1</tspan></text>
<line x1="344.3665738881307" y1="505" x2="344.3665738881307" y2="506.5" stroke="#231f20" stroke-width="0.6"/>
<line x1="348.9097283717673" y1="505" x2="348.9097283717673" y2="506.5" stroke="#231f20" stroke-width="0.6"/>
<line x1="352.13314777626147" y1="505" x2="352.13314777626147" y2="506.5" stroke="#231f20" stroke-width="0.6"/>
<line x1="354.6334261118693" y1="505" x2="354.6334261118693" y2="506.5" stroke="#231f20" stroke-width="0.6"/>
<line x1="356.676302259898" y1="505" x2="356.676302259898" y2="506.5" stroke="#231f20" stroke-width="0.6"/>
<line x1="358.4035294323678" y1="505" x2="358.4035294323678" y2="506.5" stroke="#231f20" stroke-width="0.6"/>
<line x1="359.89972166439213" y1="505" x2="359.89972166439213" y2="506.5" stroke="#231f20" stroke-width="0.6"/>
<line x1="361.2194567435346" y1="505" x2="361.2194567435346" y2="506.5" stroke="#231f20" stroke-width="0.6"/>
<line x1="362.4" y1="505" x2="362.4" y2="507.8" stroke="#231f20" stroke-width="1.0"/>
<text x="364.2" y="518.3" font-size="8.4" text-anchor="middle" fill="#231f20" stroke="#231f20" stroke-width="0.08">10<tspan font-size="5.71" dy="-3.2">2</tspan></text>
<line x1="370.1665738881307" y1="505" x2="370.1665738881307" y2="506.5" stroke="#231f20" stroke-width="0.6"/>
<line x1="374.7097283717673" y1="505" x2="374.7097283717673" y2="506.5" stroke="#231f20" stroke-width="0.6"/>
<line x1="377.9331477762614" y1="505" x2="377.9331477762614" y2="506.5" stroke="#231f20" stroke-width="0.6"/>
<line x1="380.43342611186927" y1="505" x2="380.43342611186927" y2="506.5" stroke="#231f20" stroke-width="0.6"/>
<line x1="382.47630225989803" y1="505" x2="382.47630225989803" y2="506.5" stroke="#231f20" stroke-width="0.6"/>
<line x1="384.2035294323678" y1="505" x2="384.2035294323678" y2="506.5" stroke="#231f20" stroke-width="0.6"/>
<line x1="385.69972166439214" y1="505" x2="385.69972166439214" y2="506.5" stroke="#231f20" stroke-width="0.6"/>
<line x1="387.0194567435346" y1="505" x2="387.0194567435346" y2="506.5" stroke="#231f20" stroke-width="0.6"/>
<line x1="388.2" y1="505" x2="388.2" y2="507.8" stroke="#231f20" stroke-width="1.0"/>
<text x="390.0" y="518.3" font-size="8.4" text-anchor="middle" fill="#231f20" stroke="#231f20" stroke-width="0.08">10<tspan font-size="5.71" dy="-3.2">3</tspan></text>
<line x1="395.9665738881307" y1="505" x2="395.9665738881307" y2="506.5" stroke="#231f20" stroke-width="0.6"/>
<line x1="400.5097283717673" y1="505" x2="400.5097283717673" y2="506.5" stroke="#231f20" stroke-width="0.6"/>
<line x1="403.73314777626143" y1="505" x2="403.73314777626143" y2="506.5" stroke="#231f20" stroke-width="0.6"/>
<line x1="406.2334261118693" y1="505" x2="406.2334261118693" y2="506.5" stroke="#231f20" stroke-width="0.6"/>
<line x1="408.276302259898" y1="505" x2="408.276302259898" y2="506.5" stroke="#231f20" stroke-width="0.6"/>
<line x1="410.0035294323678" y1="505" x2="410.0035294323678" y2="506.5" stroke="#231f20" stroke-width="0.6"/>
<line x1="411.49972166439215" y1="505" x2="411.49972166439215" y2="506.5" stroke="#231f20" stroke-width="0.6"/>
<line x1="412.8194567435346" y1="505" x2="412.8194567435346" y2="506.5" stroke="#231f20" stroke-width="0.6"/>
<line x1="414.0" y1="505" x2="414.0" y2="507.8" stroke="#231f20" stroke-width="1.0"/>
<text x="415.8" y="518.3" font-size="8.4" text-anchor="middle" fill="#231f20" stroke="#231f20" stroke-width="0.08">10<tspan font-size="5.71" dy="-3.2">4</tspan></text>
<line x1="421.7665738881307" y1="505" x2="421.7665738881307" y2="506.5" stroke="#231f20" stroke-width="0.6"/>
<line x1="426.3097283717673" y1="505" x2="426.3097283717673" y2="506.5" stroke="#231f20" stroke-width="0.6"/>
<line x1="429.53314777626144" y1="505" x2="429.53314777626144" y2="506.5" stroke="#231f20" stroke-width="0.6"/>
<line x1="432.0334261118693" y1="505" x2="432.0334261118693" y2="506.5" stroke="#231f20" stroke-width="0.6"/>
<line x1="434.07630225989806" y1="505" x2="434.07630225989806" y2="506.5" stroke="#231f20" stroke-width="0.6"/>
<line x1="435.80352943236784" y1="505" x2="435.80352943236784" y2="506.5" stroke="#231f20" stroke-width="0.6"/>
<line x1="437.29972166439217" y1="505" x2="437.29972166439217" y2="506.5" stroke="#231f20" stroke-width="0.6"/>
<line x1="438.61945674353456" y1="505" x2="438.61945674353456" y2="506.5" stroke="#231f20" stroke-width="0.6"/>
<line x1="439.8" y1="505" x2="439.8" y2="507.8" stroke="#231f20" stroke-width="1.0"/>
<text x="441.6" y="518.3" font-size="8.4" text-anchor="middle" fill="#231f20" stroke="#231f20" stroke-width="0.08">10<tspan font-size="5.71" dy="-3.2">5</tspan></text>
<text x="258.6" y="481.7" font-size="9.4" text-anchor="start" textLength="69" lengthAdjust="spacingAndGlyphs" transform="rotate(-90 258.6 481.7)" fill="#231f20" stroke="#231f20" stroke-width="0.08">Relative viability (%)</text>
<text x="331.25" y="531.3" font-size="9.8" text-anchor="start" textLength="63" lengthAdjust="spacingAndGlyphs" fill="#231f20" stroke="#231f20" stroke-width="0.08">c(Palbociclib) [nM]</text>
<polyline points="286.03,404.73 287.20,404.73 288.36,404.73 289.52,404.73 290.68,404.73 291.85,404.73 293.01,404.73 294.17,404.73 295.34,404.73 296.50,404.73 297.66,404.73 298.83,404.73 299.99,404.73 301.15,404.73 302.32,404.73 303.48,404.73 304.64,404.73 305.81,404.73 306.97,404.73 308.13,404.73 309.30,404.73 310.46,404.73 311.62,404.73 312.78,404.73 313.95,404.73 315.11,404.73 316.27,404.73 317.44,404.73 318.60,404.73 319.76,404.73 320.93,404.73 322.09,404.73 323.25,404.73 324.42,404.73 325.58,404.73 326.74,404.73 327.91,404.73 329.07,404.73 330.23,404.73 331.39,404.73 332.56,404.73 333.72,404.73 334.88,404.73 336.05,404.73 337.21,404.73 338.37,404.73 339.54,404.73 340.70,404.73 341.86,404.73 343.03,404.73 344.19,404.73 345.35,404.73 346.52,404.73 347.68,404.73 348.84,404.73 350.01,404.73 351.17,404.73 352.33,404.73 353.49,404.73 354.66,404.73 355.82,404.73 356.98,404.73 358.15,404.73 359.31,404.73 360.47,404.73 361.64,404.73 362.80,404.73 363.96,404.73 365.13,404.74 366.29,404.74 367.45,404.74 368.62,404.74 369.78,404.74 370.94,404.75 372.11,404.75 373.27,404.76 374.43,404.76 375.59,404.77 376.76,404.78 377.92,404.79 379.08,404.80 380.25,404.82 381.41,404.83 382.57,404.86 383.74,404.89 384.90,404.92 386.06,404.97 387.23,405.02 388.39,405.09 389.55,405.17 390.72,405.27 391.88,405.39 393.04,405.53 394.20,405.71 395.37,405.93 396.53,406.20 397.69,406.53 398.86,406.93 400.02,407.42 401.18,408.01 402.35,408.72 403.51,409.58 404.67,410.62 405.84,411.86 407.00,413.34 408.16,415.10 409.33,417.16 410.49,419.56 411.65,422.33 412.82,425.50 413.98,429.07 415.14,433.03 416.30,437.36 417.47,442.02 418.63,446.92 419.79,451.98 420.96,457.10 422.12,462.18 423.28,467.10 424.45,471.79 425.61,476.17" fill="none" stroke="#b51c44" stroke-width="1.3" stroke-linejoin="round"/>
<polyline points="286.03,404.73 287.20,404.73 288.36,404.73 289.52,404.73 290.68,404.73 291.85,404.73 293.01,404.73 294.17,404.73 295.34,404.73 296.50,404.73 297.66,404.73 298.83,404.73 299.99,404.73 301.15,404.73 302.32,404.73 303.48,404.73 304.64,404.73 305.81,404.73 306.97,404.73 308.13,404.73 309.30,404.73 310.46,404.73 311.62,404.73 312.78,404.73 313.95,404.73 315.11,404.73 316.27,404.73 317.44,404.73 318.60,404.73 319.76,404.73 320.93,404.73 322.09,404.73 323.25,404.73 324.42,404.73 325.58,404.73 326.74,404.73 327.91,404.73 329.07,404.73 330.23,404.73 331.39,404.73 332.56,404.73 333.72,404.73 334.88,404.73 336.05,404.73 337.21,404.73 338.37,404.73 339.54,404.73 340.70,404.73 341.86,404.73 343.03,404.73 344.19,404.73 345.35,404.73 346.52,404.73 347.68,404.73 348.84,404.73 350.01,404.73 351.17,404.73 352.33,404.73 353.49,404.73 354.66,404.73 355.82,404.73 356.98,404.73 358.15,404.73 359.31,404.73 360.47,404.73 361.64,404.73 362.80,404.74 363.96,404.74 365.13,404.74 366.29,404.75 367.45,404.75 368.62,404.76 369.78,404.77 370.94,404.79 372.11,404.80 373.27,404.83 374.43,404.85 375.59,404.89 376.76,404.93 377.92,404.99 379.08,405.07 380.25,405.17 381.41,405.29 382.57,405.45 383.74,405.65 384.90,405.90 386.06,406.23 387.23,406.64 388.39,407.17 389.55,407.83 390.72,408.67 391.88,409.72 393.04,411.04 394.20,412.67 395.37,414.68 396.53,417.13 397.69,420.09 398.86,423.59 400.02,427.69 401.18,432.36 402.35,437.59 403.51,443.28 404.67,449.32 405.84,455.52 407.00,461.70 408.16,467.69 409.33,473.32 410.49,478.46 411.65,483.05 412.82,487.05 413.98,490.46 415.14,493.33 416.30,495.71 417.47,497.66 418.63,499.24 419.79,500.51 420.96,501.52 422.12,502.33 423.28,502.97 424.45,503.48 425.61,503.87" fill="none" stroke="#cdcdcd" stroke-width="1.1" stroke-linejoin="round"/>
<polyline points="286.03,407.50 287.58,409.80 290.16,410.60" fill="none" stroke="#62a83d" stroke-width="1.15"/>
<polyline points="286.03,410.52 287.20,410.71 288.36,410.91 289.52,411.11 290.68,411.32 291.85,411.53 293.01,411.75 294.17,411.98 295.34,412.22 296.50,412.46 297.66,412.71 298.83,412.97 299.99,413.23 301.15,413.50 302.32,413.78 303.48,414.07 304.64,414.37 305.81,414.67 306.97,414.98 308.13,415.31 309.30,415.64 310.46,415.98 311.62,416.33 312.78,416.69 313.95,417.06 315.11,417.43 316.27,417.82 317.44,418.22 318.60,418.63 319.76,419.05 320.93,419.47 322.09,419.91 323.25,420.36 324.42,420.83 325.58,421.30 326.74,421.78 327.91,422.27 329.07,422.78 330.23,423.30 331.39,423.82 332.56,424.36 333.72,424.91 334.88,425.47 336.05,426.05 337.21,426.63 338.37,427.23 339.54,427.83 340.70,428.45 341.86,429.08 343.03,429.72 344.19,430.37 345.35,431.03 346.52,431.71 347.68,432.39 348.84,433.08 350.01,433.79 351.17,434.50 352.33,435.22 353.49,435.95 354.66,436.70 355.82,437.45 356.98,438.21 358.15,438.97 359.31,439.75 360.47,440.53 361.64,441.32 362.80,442.12 363.96,442.92 365.13,443.73 366.29,444.55 367.45,445.37 368.62,446.19 369.78,447.02 370.94,447.86 372.11,448.69 373.27,449.53 374.43,450.37 375.59,451.22 376.76,452.06 377.92,452.90 379.08,453.75 380.25,454.60 381.41,455.44 382.57,456.28 383.74,457.12 384.90,457.96 386.06,458.80 387.23,459.63 388.39,460.46 389.55,461.28 390.72,462.10 391.88,462.92 393.04,463.73 394.20,464.53 395.37,465.32 396.53,466.11 397.69,466.90 398.86,467.67 400.02,468.44 401.18,469.20 402.35,469.94 403.51,470.69 404.67,471.42 405.84,472.14 407.00,472.85 408.16,473.55 409.33,474.24 410.49,474.93 411.65,475.60 412.82,476.26 413.98,476.91 415.14,477.55 416.30,478.17 417.47,478.79 418.63,479.40 419.79,479.99 420.96,480.57 422.12,481.14 423.28,481.70 424.45,482.25 425.61,482.79" fill="none" stroke="#62a83d" stroke-width="1.15" stroke-linejoin="round"/>
<polyline points="286.03,415.88 287.20,416.29 288.36,416.72 289.52,417.16 290.68,417.62 291.85,418.09 293.01,418.57 294.17,419.07 295.34,419.58 296.50,420.11 297.66,420.66 298.83,421.22 299.99,421.80 301.15,422.39 302.32,423.00 303.48,423.63 304.64,424.28 305.81,424.94 306.97,425.61 308.13,426.31 309.30,427.02 310.46,427.75 311.62,428.49 312.78,429.25 313.95,430.03 315.11,430.82 316.27,431.63 317.44,432.46 318.60,433.30 319.76,434.16 320.93,435.03 322.09,435.92 323.25,436.82 324.42,437.73 325.58,438.66 326.74,439.60 327.91,440.55 329.07,441.52 330.23,442.49 331.39,443.48 332.56,444.47 333.72,445.47 334.88,446.48 336.05,447.50 337.21,448.53 338.37,449.55 339.54,450.59 340.70,451.63 341.86,452.67 343.03,453.71 344.19,454.75 345.35,455.79 346.52,456.84 347.68,457.88 348.84,458.91 350.01,459.95 351.17,460.98 352.33,462.00 353.49,463.02 354.66,464.03 355.82,465.03 356.98,466.02 358.15,467.01 359.31,467.98 360.47,468.94 361.64,469.90 362.80,470.84 363.96,471.76 365.13,472.68 366.29,473.58 367.45,474.46 368.62,475.33 369.78,476.19 370.94,477.03 372.11,477.86 373.27,478.67 374.43,479.46 375.59,480.24 376.76,481.00 377.92,481.74 379.08,482.47 380.25,483.18 381.41,483.87 382.57,484.55 383.74,485.21 384.90,485.85 386.06,486.48 387.23,487.08 388.39,487.68 389.55,488.26 390.72,488.82 391.88,489.36 393.04,489.89 394.20,490.40 395.37,490.90 396.53,491.39 397.69,491.86 398.86,492.31 400.02,492.75 401.18,493.18 402.35,493.59 403.51,493.99 404.67,494.38 405.84,494.75 407.00,495.11 408.16,495.46 409.33,495.80 410.49,496.12 411.65,496.44 412.82,496.74 413.98,497.04 415.14,497.32 416.30,497.59 417.47,497.86 418.63,498.11 419.79,498.35 420.96,498.59 422.12,498.82 423.28,499.04 424.45,499.25 425.61,499.45" fill="none" stroke="#2b4a8c" stroke-width="1.15" stroke-linejoin="round"/>
<line x1="328.75" y1="442.8" x2="328.75" y2="454.8" stroke="#2b4a8c" stroke-width="0.7"/>
<line x1="327.75" y1="442.8" x2="329.75" y2="442.8" stroke="#2b4a8c" stroke-width="0.7"/>
<line x1="327.75" y1="454.8" x2="329.75" y2="454.8" stroke="#2b4a8c" stroke-width="0.7"/>
<rect x="327.75" y="447.8" width="2.0" height="2.0" fill="#2b4a8c"/>
<line x1="340.75" y1="447.8" x2="340.75" y2="459.8" stroke="#2b4a8c" stroke-width="0.7"/>
<line x1="339.75" y1="447.8" x2="341.75" y2="447.8" stroke="#2b4a8c" stroke-width="0.7"/>
<line x1="339.75" y1="459.8" x2="341.75" y2="459.8" stroke="#2b4a8c" stroke-width="0.7"/>
<rect x="339.75" y="452.8" width="2.0" height="2.0" fill="#2b4a8c"/>
<line x1="352.5" y1="461.5" x2="352.5" y2="467.5" stroke="#2b4a8c" stroke-width="0.7"/>
<line x1="351.5" y1="461.5" x2="353.5" y2="461.5" stroke="#2b4a8c" stroke-width="0.7"/>
<line x1="351.5" y1="467.5" x2="353.5" y2="467.5" stroke="#2b4a8c" stroke-width="0.7"/>
<rect x="351.5" y="463.5" width="2.0" height="2.0" fill="#2b4a8c"/>
<rect x="363.5" y="470.2" width="2.0" height="2.0" fill="#2b4a8c"/>
<rect x="376.0" y="477.8" width="2.0" height="2.0" fill="#2b4a8c"/>
<rect x="388.5" y="482.2" width="2.0" height="2.0" fill="#2b4a8c"/>
<rect x="400.25" y="489.5" width="2.0" height="2.0" fill="#2b4a8c"/>
<rect x="412.25" y="500.7" width="2.0" height="2.0" fill="#2b4a8c"/>
<rect x="424.5" y="503.0" width="2.0" height="2.0" fill="#2b4a8c"/>
<line x1="286.0" y1="401.0" x2="286.0" y2="415.0" stroke="#62a83d" stroke-width="0.7"/>
<line x1="285.0" y1="401.0" x2="287.0" y2="401.0" stroke="#62a83d" stroke-width="0.7"/>
<line x1="285.0" y1="415.0" x2="287.0" y2="415.0" stroke="#62a83d" stroke-width="0.7"/>
<rect x="285.0" y="407.0" width="2.0" height="2.0" fill="#62a83d"/>
<rect x="302.0" y="419.9" width="2.0" height="2.0" fill="#62a83d"/>
<line x1="318.4" y1="413.8" x2="318.4" y2="423.8" stroke="#62a83d" stroke-width="0.7"/>
<line x1="317.4" y1="413.8" x2="319.4" y2="413.8" stroke="#62a83d" stroke-width="0.7"/>
<line x1="317.4" y1="423.8" x2="319.4" y2="423.8" stroke="#62a83d" stroke-width="0.7"/>
<rect x="317.4" y="417.8" width="2.0" height="2.0" fill="#62a83d"/>
<line x1="333.8" y1="422.2" x2="333.8" y2="426.2" stroke="#62a83d" stroke-width="0.7"/>
<line x1="332.8" y1="422.2" x2="334.8" y2="422.2" stroke="#62a83d" stroke-width="0.7"/>
<line x1="332.8" y1="426.2" x2="334.8" y2="426.2" stroke="#62a83d" stroke-width="0.7"/>
<rect x="332.8" y="423.2" width="2.0" height="2.0" fill="#62a83d"/>
<line x1="349.2" y1="439.3" x2="349.2" y2="443.3" stroke="#62a83d" stroke-width="0.7"/>
<line x1="348.2" y1="439.3" x2="350.2" y2="439.3" stroke="#62a83d" stroke-width="0.7"/>
<line x1="348.2" y1="443.3" x2="350.2" y2="443.3" stroke="#62a83d" stroke-width="0.7"/>
<rect x="348.2" y="440.3" width="2.0" height="2.0" fill="#62a83d"/>
<rect x="363.2" y="446.4" width="2.0" height="2.0" fill="#62a83d"/>
<rect x="378.5" y="450.6" width="2.0" height="2.0" fill="#62a83d"/>
<rect x="393.8" y="457.0" width="2.0" height="2.0" fill="#62a83d"/>
<line x1="410.4" y1="463.3" x2="410.4" y2="467.3" stroke="#62a83d" stroke-width="0.7"/>
<line x1="409.4" y1="463.3" x2="411.4" y2="463.3" stroke="#62a83d" stroke-width="0.7"/>
<line x1="409.4" y1="467.3" x2="411.4" y2="467.3" stroke="#62a83d" stroke-width="0.7"/>
<rect x="409.4" y="464.3" width="2.0" height="2.0" fill="#62a83d"/>
<line x1="425.5" y1="492.0" x2="425.5" y2="500.0" stroke="#62a83d" stroke-width="0.7"/>
<line x1="424.5" y1="492.0" x2="426.5" y2="492.0" stroke="#62a83d" stroke-width="0.7"/>
<line x1="424.5" y1="500.0" x2="426.5" y2="500.0" stroke="#62a83d" stroke-width="0.7"/>
<rect x="424.5" y="495.0" width="2.0" height="2.0" fill="#62a83d"/>
<line x1="286.0" y1="400.0" x2="286.0" y2="410.0" stroke="#b51c44" stroke-width="0.7"/>
<line x1="285.0" y1="400.0" x2="287.0" y2="400.0" stroke="#b51c44" stroke-width="0.7"/>
<line x1="285.0" y1="410.0" x2="287.0" y2="410.0" stroke="#b51c44" stroke-width="0.7"/>
<rect x="285.0" y="404.0" width="2.0" height="2.0" fill="#b51c44"/>
<line x1="303.0" y1="399.8" x2="303.0" y2="407.8" stroke="#b51c44" stroke-width="0.7"/>
<line x1="302.0" y1="399.8" x2="304.0" y2="399.8" stroke="#b51c44" stroke-width="0.7"/>
<line x1="302.0" y1="407.8" x2="304.0" y2="407.8" stroke="#b51c44" stroke-width="0.7"/>
<rect x="302.0" y="402.8" width="2.0" height="2.0" fill="#b51c44"/>
<line x1="318.4" y1="398.4" x2="318.4" y2="402.4" stroke="#b51c44" stroke-width="0.7"/>
<line x1="317.4" y1="398.4" x2="319.4" y2="398.4" stroke="#b51c44" stroke-width="0.7"/>
<line x1="317.4" y1="402.4" x2="319.4" y2="402.4" stroke="#b51c44" stroke-width="0.7"/>
<rect x="317.4" y="399.4" width="2.0" height="2.0" fill="#b51c44"/>
<line x1="333.4" y1="398.4" x2="333.4" y2="402.4" stroke="#b51c44" stroke-width="0.7"/>
<line x1="332.4" y1="398.4" x2="334.4" y2="398.4" stroke="#b51c44" stroke-width="0.7"/>
<line x1="332.4" y1="402.4" x2="334.4" y2="402.4" stroke="#b51c44" stroke-width="0.7"/>
<rect x="332.4" y="399.4" width="2.0" height="2.0" fill="#b51c44"/>
<line x1="349.2" y1="400.8" x2="349.2" y2="406.8" stroke="#b51c44" stroke-width="0.7"/>
<line x1="348.2" y1="400.8" x2="350.2" y2="400.8" stroke="#b51c44" stroke-width="0.7"/>
<line x1="348.2" y1="406.8" x2="350.2" y2="406.8" stroke="#b51c44" stroke-width="0.7"/>
<rect x="348.2" y="402.8" width="2.0" height="2.0" fill="#b51c44"/>
<rect x="363.2" y="405.4" width="2.0" height="2.0" fill="#b51c44"/>
<line x1="379.5" y1="410.6" x2="379.5" y2="416.6" stroke="#b51c44" stroke-width="0.7"/>
<line x1="378.5" y1="410.6" x2="380.5" y2="410.6" stroke="#b51c44" stroke-width="0.7"/>
<line x1="378.5" y1="416.6" x2="380.5" y2="416.6" stroke="#b51c44" stroke-width="0.7"/>
<rect x="378.5" y="412.6" width="2.0" height="2.0" fill="#b51c44"/>
<rect x="393.8" y="412.6" width="2.0" height="2.0" fill="#b51c44"/>
<line x1="410.4" y1="416.4" x2="410.4" y2="422.4" stroke="#b51c44" stroke-width="0.7"/>
<line x1="409.4" y1="416.4" x2="411.4" y2="416.4" stroke="#b51c44" stroke-width="0.7"/>
<line x1="409.4" y1="422.4" x2="411.4" y2="422.4" stroke="#b51c44" stroke-width="0.7"/>
<rect x="409.4" y="418.4" width="2.0" height="2.0" fill="#b51c44"/>
<line x1="425.5" y1="478.0" x2="425.5" y2="482.0" stroke="#b51c44" stroke-width="0.7"/>
<line x1="424.5" y1="478.0" x2="426.5" y2="478.0" stroke="#b51c44" stroke-width="0.7"/>
<line x1="424.5" y1="482.0" x2="426.5" y2="482.0" stroke="#b51c44" stroke-width="0.7"/>
<rect x="424.5" y="479.0" width="2.0" height="2.0" fill="#b51c44"/>
<line x1="328.5" y1="393.2" x2="328.5" y2="397.2" stroke="#cdcdcd" stroke-width="0.7"/>
<line x1="327.5" y1="393.2" x2="329.5" y2="393.2" stroke="#cdcdcd" stroke-width="0.7"/>
<line x1="327.5" y1="397.2" x2="329.5" y2="397.2" stroke="#cdcdcd" stroke-width="0.7"/>
<rect x="327.6" y="394.3" width="1.8" height="1.8" fill="#cdcdcd"/>
<line x1="340.6" y1="391.0" x2="340.6" y2="395.0" stroke="#cdcdcd" stroke-width="0.7"/>
<line x1="339.6" y1="391.0" x2="341.6" y2="391.0" stroke="#cdcdcd" stroke-width="0.7"/>
<line x1="339.6" y1="395.0" x2="341.6" y2="395.0" stroke="#cdcdcd" stroke-width="0.7"/>
<rect x="339.70000000000005" y="392.1" width="1.8" height="1.8" fill="#cdcdcd"/>
<line x1="352.7" y1="394.5" x2="352.7" y2="396.5" stroke="#cdcdcd" stroke-width="0.7"/>
<line x1="351.7" y1="394.5" x2="353.7" y2="394.5" stroke="#cdcdcd" stroke-width="0.7"/>
<line x1="351.7" y1="396.5" x2="353.7" y2="396.5" stroke="#cdcdcd" stroke-width="0.7"/>
<rect x="351.8" y="394.6" width="1.8" height="1.8" fill="#cdcdcd"/>
<line x1="365.0" y1="397.0" x2="365.0" y2="401.0" stroke="#cdcdcd" stroke-width="0.7"/>
<line x1="364.0" y1="397.0" x2="366.0" y2="397.0" stroke="#cdcdcd" stroke-width="0.7"/>
<line x1="364.0" y1="401.0" x2="366.0" y2="401.0" stroke="#cdcdcd" stroke-width="0.7"/>
<rect x="364.1" y="398.1" width="1.8" height="1.8" fill="#cdcdcd"/>
<rect x="376.3" y="400.70000000000005" width="1.8" height="1.8" fill="#cdcdcd"/>
<line x1="389.0" y1="409.0" x2="389.0" y2="411.0" stroke="#cdcdcd" stroke-width="0.7"/>
<line x1="388.0" y1="409.0" x2="390.0" y2="409.0" stroke="#cdcdcd" stroke-width="0.7"/>
<line x1="388.0" y1="411.0" x2="390.0" y2="411.0" stroke="#cdcdcd" stroke-width="0.7"/>
<rect x="388.1" y="409.1" width="1.8" height="1.8" fill="#cdcdcd"/>
<line x1="401.0" y1="432.0" x2="401.0" y2="438.0" stroke="#cdcdcd" stroke-width="0.7"/>
<line x1="400.0" y1="432.0" x2="402.0" y2="432.0" stroke="#cdcdcd" stroke-width="0.7"/>
<line x1="400.0" y1="438.0" x2="402.0" y2="438.0" stroke="#cdcdcd" stroke-width="0.7"/>
<rect x="400.1" y="434.1" width="1.8" height="1.8" fill="#cdcdcd"/>
<line x1="413.0" y1="483.0" x2="413.0" y2="487.0" stroke="#cdcdcd" stroke-width="0.7"/>
<line x1="412.0" y1="483.0" x2="414.0" y2="483.0" stroke="#cdcdcd" stroke-width="0.7"/>
<line x1="412.0" y1="487.0" x2="414.0" y2="487.0" stroke="#cdcdcd" stroke-width="0.7"/>
<rect x="412.1" y="484.1" width="1.8" height="1.8" fill="#cdcdcd"/>
<rect x="424.6" y="503.1" width="1.8" height="1.8" fill="#cdcdcd"/>
<text x="487.4" y="404.2" font-size="5.8" text-anchor="start" textLength="23.6" lengthAdjust="spacingAndGlyphs" fill="#231f20" stroke="#231f20" stroke-width="0.08">EC50[nM]</text>
<line x1="422.0" y1="407.0" x2="512.3" y2="407.0" stroke="#3c3c3c" stroke-width="1.1"/>
<line x1="422.0" y1="414.5" x2="512.3" y2="414.5" stroke="#3c3c3c" stroke-width="1.0"/>
<line x1="422.0" y1="421.5" x2="512.3" y2="421.5" stroke="#3c3c3c" stroke-width="1.0"/>
<line x1="422.0" y1="428.4" x2="512.3" y2="428.4" stroke="#3c3c3c" stroke-width="1.0"/>
<line x1="485.6" y1="407.0" x2="485.6" y2="435.3" stroke="#3c3c3c" stroke-width="0.9"/>
<line x1="423.75" y1="411.0" x2="428.75" y2="411.0" stroke="#2b4a8c" stroke-width="1.3"/>
<text x="430.75" y="413.0" font-size="5.8" text-anchor="start" textLength="48.8" lengthAdjust="spacingAndGlyphs" fill="#231f20">NUP98/JARID1A #1</text>
<text x="490.5" y="413.0" font-size="5.8" text-anchor="start" fill="#231f20">18</text>
<line x1="423.75" y1="418.1" x2="428.75" y2="418.1" stroke="#62a83d" stroke-width="1.3"/>
<text x="430.75" y="420.1" font-size="5.8" text-anchor="start" textLength="42.2" lengthAdjust="spacingAndGlyphs" fill="#231f20">NUP98/NSD1 #3</text>
<text x="490.5" y="420.1" font-size="5.8" text-anchor="start" fill="#231f20">508</text>
<line x1="423.75" y1="425.2" x2="428.75" y2="425.2" stroke="#cdcdcd" stroke-width="1.3"/>
<text x="430.75" y="427.2" font-size="5.8" text-anchor="start" textLength="33.1" lengthAdjust="spacingAndGlyphs" fill="#231f20">AML1/ETO</text>
<text x="490.5" y="427.2" font-size="5.8" text-anchor="start" fill="#231f20">4820</text>
<line x1="423.75" y1="432.3" x2="428.75" y2="432.3" stroke="#b51c44" stroke-width="1.3"/>
<text x="430.75" y="434.3" font-size="5.8" text-anchor="start" textLength="41.8" lengthAdjust="spacingAndGlyphs" fill="#231f20">BCR/ABL1 (CML)</text>
<text x="490.5" y="434.3" font-size="5.8" text-anchor="start" fill="#231f20">17501</text>
<text x="6.2" y="553.0" font-size="12.3" text-anchor="start" font-weight="bold" fill="#000">I</text>
<text x="62.8" y="564.3" font-size="9.4" text-anchor="start" textLength="125" lengthAdjust="spacing" fill="#231f20" stroke="#231f20" stroke-width="0.1">mouse model: NUP98/NSD1</text>
<line x1="49.0" y1="570.0" x2="49.0" y2="672.4" stroke="#231f20" stroke-width="1.3"/>
<line x1="46.2" y1="671.8" x2="49.0" y2="671.8" stroke="#231f20" stroke-width="1.0"/>
<text x="43.6" y="674.6999999999999" font-size="8.4" text-anchor="end" fill="#231f20" stroke="#231f20" stroke-width="0.08">0</text>
<line x1="46.2" y1="647.4875" x2="49.0" y2="647.4875" stroke="#231f20" stroke-width="1.0"/>
<text x="43.6" y="650.3874999999999" font-size="8.4" text-anchor="end" fill="#231f20" stroke="#231f20" stroke-width="0.08">25</text>
<line x1="46.2" y1="623.175" x2="49.0" y2="623.175" stroke="#231f20" stroke-width="1.0"/>
<text x="43.6" y="626.0749999999999" font-size="8.4" text-anchor="end" fill="#231f20" stroke="#231f20" stroke-width="0.08">50</text>
<line x1="46.2" y1="598.8625" x2="49.0" y2="598.8625" stroke="#231f20" stroke-width="1.0"/>
<text x="43.6" y="601.7624999999999" font-size="8.4" text-anchor="end" fill="#231f20" stroke="#231f20" stroke-width="0.08">75</text>
<line x1="46.2" y1="574.55" x2="49.0" y2="574.55" stroke="#231f20" stroke-width="1.0"/>
<text x="43.6" y="577.4499999999999" font-size="8.4" text-anchor="end" fill="#231f20" stroke="#231f20" stroke-width="0.08">100</text>
<line x1="48.4" y1="671.8" x2="202.5" y2="671.8" stroke="#231f20" stroke-width="1.3"/>
<line x1="48.9" y1="671.8" x2="48.9" y2="674.5" stroke="#231f20" stroke-width="1.0"/>
<text x="48.9" y="685.2" font-size="8.4" text-anchor="middle" fill="#231f20" stroke="#231f20" stroke-width="0.08">0</text>
<line x1="79.4" y1="671.8" x2="79.4" y2="674.5" stroke="#231f20" stroke-width="1.0"/>
<text x="79.4" y="685.2" font-size="8.4" text-anchor="middle" fill="#231f20" stroke="#231f20" stroke-width="0.08">7</text>
<line x1="109.9" y1="671.8" x2="109.9" y2="674.5" stroke="#231f20" stroke-width="1.0"/>
<text x="109.9" y="685.2" font-size="8.4" text-anchor="middle" fill="#231f20" stroke="#231f20" stroke-width="0.08">14</text>
<line x1="140.4" y1="671.8" x2="140.4" y2="674.5" stroke="#231f20" stroke-width="1.0"/>
<text x="140.4" y="685.2" font-size="8.4" text-anchor="middle" fill="#231f20" stroke="#231f20" stroke-width="0.08">21</text>
<line x1="170.9" y1="671.8" x2="170.9" y2="674.5" stroke="#231f20" stroke-width="1.0"/>
<text x="170.9" y="685.2" font-size="8.4" text-anchor="middle" fill="#231f20" stroke="#231f20" stroke-width="0.08">28</text>
<line x1="201.4" y1="671.8" x2="201.4" y2="674.5" stroke="#231f20" stroke-width="1.0"/>
<text x="201.4" y="685.2" font-size="8.4" text-anchor="middle" fill="#231f20" stroke="#231f20" stroke-width="0.08">35</text>
<text x="24.2" y="637.1" font-size="9.4" text-anchor="start" textLength="33.6" lengthAdjust="spacingAndGlyphs" transform="rotate(-90 24.2 637.1)" fill="#231f20" stroke="#231f20" stroke-width="0.08">% survival</text>
<text x="91.3" y="698.8" font-size="9.8" text-anchor="start" textLength="69.7" lengthAdjust="spacingAndGlyphs" fill="#231f20" stroke="#231f20" stroke-width="0.08">Days post transplant</text>
<polyline points="48.90,575.15 144.76,575.15 144.76,623.17 153.47,623.17 153.47,647.49 157.83,647.49 157.83,671.80" fill="none" stroke="#4d6fae" stroke-width="1.3"/>
<polyline points="48.90,573.45 175.26,573.45 175.26,597.56 179.61,597.56 179.61,621.88 192.69,621.88 192.69,646.19 201.40,646.19 201.40,671.80" fill="none" stroke="#d0445f" stroke-width="1.3"/>
<line x1="54.2" y1="630.0" x2="61.2" y2="630.0" stroke="#4d6fae" stroke-width="1.2"/>
<text x="65.0" y="632.8" font-size="8.2" text-anchor="start" textLength="23.5" lengthAdjust="spacingAndGlyphs" fill="#231f20" stroke="#231f20" stroke-width="0.08">vehicle</text>
<line x1="54.2" y1="641.9" x2="61.2" y2="641.9" stroke="#d0445f" stroke-width="1.2"/>
<text x="65.0" y="644.7" font-size="8.2" text-anchor="start" textLength="36.9" lengthAdjust="spacingAndGlyphs" fill="#231f20" stroke="#231f20" stroke-width="0.08">Palbociclib</text>
<path d="M104.2 625.6 H106.2 V644.2 H104.2" fill="none" stroke="#231f20" stroke-width="0.9"/>
<path d="M109.90 633.60L109.90 636.00M108.86 634.20L110.94 635.40M110.94 634.20L108.86 635.40M113.30 633.60L113.30 636.00M112.26 634.20L114.34 635.40M114.34 634.20L112.26 635.40" stroke="#1a1a1a" stroke-width="0.85" fill="none"/>
<text x="114.9" y="658.6" font-size="8.2" text-anchor="middle" textLength="51" lengthAdjust="spacingAndGlyphs" fill="#231f20" stroke="#231f20" stroke-width="0.08">start treatment</text>
<line x1="110.0" y1="659.6" x2="110.0" y2="666.0" stroke="#000" stroke-width="1.0"/>
<path d="M107.4 665.0 L112.6 665.0 L110.0 670.9 Z" fill="#000"/>
<text x="242.6" y="553.5" font-size="12.3" text-anchor="start" font-weight="bold" fill="#000">J</text>
<text x="330.9" y="561.2" font-size="9.4" text-anchor="start" textLength="83.8" lengthAdjust="spacing" fill="#231f20" stroke="#231f20" stroke-width="0.1">PDX: NUP98/NSD1</text>
<line x1="283.7" y1="567.0" x2="283.7" y2="672.6" stroke="#231f20" stroke-width="1.3"/>
<line x1="280.9" y1="672.0" x2="283.7" y2="672.0" stroke="#231f20" stroke-width="1.0"/>
<text x="278.3" y="674.9" font-size="8.4" text-anchor="end" fill="#231f20" stroke="#231f20" stroke-width="0.08">0</text>
<line x1="280.9" y1="648.0" x2="283.7" y2="648.0" stroke="#231f20" stroke-width="1.0"/>
<text x="278.3" y="650.9" font-size="8.4" text-anchor="end" fill="#231f20" stroke="#231f20" stroke-width="0.08">25</text>
<line x1="280.9" y1="624.0" x2="283.7" y2="624.0" stroke="#231f20" stroke-width="1.0"/>
<text x="278.3" y="626.9" font-size="8.4" text-anchor="end" fill="#231f20" stroke="#231f20" stroke-width="0.08">50</text>
<line x1="280.9" y1="600.0" x2="283.7" y2="600.0" stroke="#231f20" stroke-width="1.0"/>
<text x="278.3" y="602.9" font-size="8.4" text-anchor="end" fill="#231f20" stroke="#231f20" stroke-width="0.08">75</text>
<line x1="280.9" y1="576.0" x2="283.7" y2="576.0" stroke="#231f20" stroke-width="1.0"/>
<text x="278.3" y="578.9" font-size="8.4" text-anchor="end" fill="#231f20" stroke="#231f20" stroke-width="0.08">100</text>
<line x1="283.1" y1="672.0" x2="458.0" y2="672.0" stroke="#231f20" stroke-width="1.3"/>
<line x1="297.5" y1="672.0" x2="297.5" y2="674.7" stroke="#231f20" stroke-width="1.0"/>
<text x="297.5" y="685.3" font-size="8.4" text-anchor="middle" fill="#231f20" stroke="#231f20" stroke-width="0.08">60</text>
<line x1="337.199" y1="672.0" x2="337.199" y2="674.7" stroke="#231f20" stroke-width="1.0"/>
<text x="337.199" y="685.3" font-size="8.4" text-anchor="middle" fill="#231f20" stroke="#231f20" stroke-width="0.08">90</text>
<line x1="376.898" y1="672.0" x2="376.898" y2="674.7" stroke="#231f20" stroke-width="1.0"/>
<text x="376.898" y="685.3" font-size="8.4" text-anchor="middle" fill="#231f20" stroke="#231f20" stroke-width="0.08">120</text>
<line x1="416.597" y1="672.0" x2="416.597" y2="674.7" stroke="#231f20" stroke-width="1.0"/>
<text x="416.597" y="685.3" font-size="8.4" text-anchor="middle" fill="#231f20" stroke="#231f20" stroke-width="0.08">150</text>
<line x1="456.296" y1="672.0" x2="456.296" y2="674.7" stroke="#231f20" stroke-width="1.0"/>
<text x="456.296" y="685.3" font-size="8.4" text-anchor="middle" fill="#231f20" stroke="#231f20" stroke-width="0.08">180</text>
<line x1="317.3495" y1="672.0" x2="317.3495" y2="673.6" stroke="#231f20" stroke-width="0.8"/>
<line x1="357.0485" y1="672.0" x2="357.0485" y2="673.6" stroke="#231f20" stroke-width="0.8"/>
<line x1="396.7475" y1="672.0" x2="396.7475" y2="673.6" stroke="#231f20" stroke-width="0.8"/>
<line x1="436.4465" y1="672.0" x2="436.4465" y2="673.6" stroke="#231f20" stroke-width="0.8"/>
<path d="M287.4 673.6 L289.6 669.0 M289.6 673.6 L291.8 669.0" stroke="#231f20" stroke-width="0.8"/>
<text x="258.9" y="636.1" font-size="9.4" text-anchor="start" textLength="33.6" lengthAdjust="spacingAndGlyphs" transform="rotate(-90 258.9 636.1)" fill="#231f20" stroke="#231f20" stroke-width="0.08">% survival</text>
<text x="335.2" y="697.4" font-size="9.8" text-anchor="start" textLength="75.2" lengthAdjust="spacingAndGlyphs" fill="#231f20" stroke="#231f20" stroke-width="0.08">Days post transplant</text>
<polyline points="283.70,576.40 349.37,576.40 349.37,624.00 355.99,624.00 355.99,648.00 360.89,648.00 360.89,672.00" fill="none" stroke="#4d6fae" stroke-width="1.3"/>
<polyline points="283.70,574.50 400.98,574.50 400.98,598.70 404.42,598.70 404.42,622.80 428.90,622.80 428.90,647.00 432.74,647.00 432.74,672.00" fill="none" stroke="#d0445f" stroke-width="1.3"/>
<line x1="288.1" y1="630.3" x2="295.0" y2="630.3" stroke="#4d6fae" stroke-width="1.2"/>
<text x="299.0" y="633.3" font-size="8.2" text-anchor="start" textLength="23.1" lengthAdjust="spacingAndGlyphs" fill="#231f20" stroke="#231f20" stroke-width="0.08">vehicle</text>
<line x1="288.1" y1="641.5" x2="295.0" y2="641.5" stroke="#d0445f" stroke-width="1.2"/>
<text x="299.0" y="644.7" font-size="8.2" text-anchor="start" textLength="36.4" lengthAdjust="spacingAndGlyphs" fill="#231f20" stroke="#231f20" stroke-width="0.08">Palbociclib</text>
<path d="M337.4 625.2 H339.3 V644.0 H337.4" fill="none" stroke="#231f20" stroke-width="0.9"/>
<path d="M343.60 633.90L343.60 636.30M342.56 634.50L344.64 635.70M344.64 634.50L342.56 635.70M347.00 633.90L347.00 636.30M345.96 634.50L348.04 635.70M348.04 634.50L345.96 635.70" stroke="#1a1a1a" stroke-width="0.85" fill="none"/>
<text x="328.8" y="658.5" font-size="8.2" text-anchor="middle" textLength="51" lengthAdjust="spacingAndGlyphs" fill="#231f20" stroke="#231f20" stroke-width="0.08">start treatment</text>
<line x1="323.1" y1="659.8" x2="323.1" y2="665.5" stroke="#000" stroke-width="1.0"/>
<path d="M320.5 664.6 L325.7 664.6 L323.1 670.8 Z" fill="#000"/>
<path d="M0.5 0.5 H519.25 V708.3 H0.5 Z" fill="none" stroke="#000" stroke-width="1"/>
<rect x="518.5" y="0" width="1.5" height="709" fill="#000"/>
<rect x="0" y="707.7" width="520" height="1.3" fill="#000"/>
<rect x="0" y="0" width="520" height="1" fill="#000"/>
<rect x="0" y="0" width="1" height="709" fill="#000"/>
</svg>
</body></html>
